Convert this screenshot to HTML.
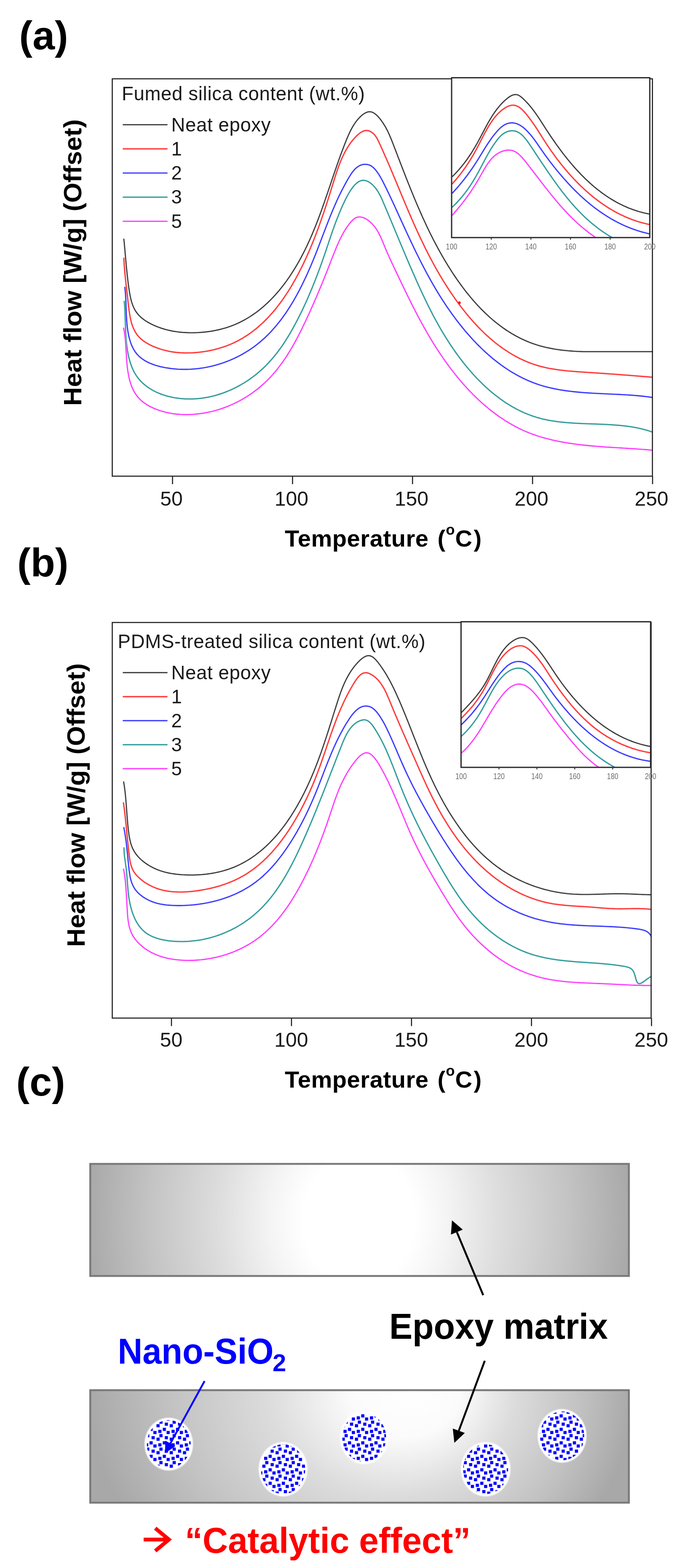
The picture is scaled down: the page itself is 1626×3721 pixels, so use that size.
<!DOCTYPE html>
<html><head><meta charset="utf-8"><title>DSC curves and schematic</title>
<style>
html,body{margin:0;padding:0;background:#fff;}
body{width:1626px;height:3721px;overflow:hidden;}
svg{display:block;}
text{font-family:'Liberation Sans', sans-serif;}
</style></head><body>
<svg width="1626" height="3721" viewBox="0 0 1626 3721">
<defs>
<radialGradient id="g1" gradientUnits="userSpaceOnUse" cx="852" cy="2895" r="660" gradientTransform="translate(852 2895) scale(1 1.18) translate(-852 -2895)">
<stop offset="0" stop-color="#ffffff"/>
<stop offset="0.2" stop-color="#ffffff"/>
<stop offset="0.32" stop-color="#f4f4f4"/>
<stop offset="0.5" stop-color="#dedede"/>
<stop offset="0.75" stop-color="#c4c4c4"/>
<stop offset="1" stop-color="#a6a6a6"/>
</radialGradient>
<radialGradient id="g2" gradientUnits="userSpaceOnUse" cx="855" cy="3300" r="650" fx="990" fy="3300" gradientTransform="translate(0 3300) scale(1 0.85) translate(0 -3300)">
<stop offset="0" stop-color="#ffffff"/>
<stop offset="0.2" stop-color="#fbfbfb"/>
<stop offset="0.45" stop-color="#dcdcdc"/>
<stop offset="0.75" stop-color="#c2c2c2"/>
<stop offset="1" stop-color="#a8a8a8"/>
</radialGradient>
<pattern id="dots" patternUnits="userSpaceOnUse" width="31.4" height="32">
<rect x="-1.05" y="1.05" width="7.5" height="7.5" fill="#0000ff"/>
<rect x="30.35" y="1.05" width="7.5" height="7.5" fill="#0000ff"/>
<rect x="9.55" y="-3.75" width="7.5" height="7.5" fill="#0000ff"/>
<rect x="9.55" y="28.25" width="7.5" height="7.5" fill="#0000ff"/>
<rect x="18.65" y="3.75" width="7.5" height="7.5" fill="#0000ff"/>
<rect x="1.55" y="11.15" width="7.5" height="7.5" fill="#0000ff"/>
<rect x="14.35" y="15.95" width="7.5" height="7.5" fill="#0000ff"/>
<rect x="-5.35" y="19.65" width="7.5" height="7.5" fill="#0000ff"/>
<rect x="26.05" y="19.65" width="7.5" height="7.5" fill="#0000ff"/>
</pattern>
<radialGradient id="glow">
<stop offset="0.86" stop-color="#fff" stop-opacity="1"/>
<stop offset="1" stop-color="#fff" stop-opacity="0.6"/>
</radialGradient>
</defs>
<rect width="1626" height="3721" fill="#fff"/>
<text x="45.5" y="117" font-size="95" font-weight="bold" fill="#000" text-anchor="start" >(a)</text>
<text x="41" y="1368" font-size="95" font-weight="bold" fill="#000" text-anchor="start" >(b)</text>
<text x="38.5" y="2600" font-size="95" font-weight="bold" fill="#000" text-anchor="start" >(c)</text>
<defs><path id="c1" d="M294.0,567.5L294.4,571.8L294.9,576.2L295.3,580.7L295.7,585.3L296.2,590.1L296.6,594.9L297.0,599.9L297.5,604.9L297.9,610.0L298.4,615.1L298.8,620.3L299.3,625.5L299.8,630.8L300.3,636.1L300.9,641.5L301.4,646.8L302.0,652.2L302.6,657.5L303.2,662.8L303.8,668.1L304.5,673.4L305.2,678.6L305.9,683.8L306.7,689.0L307.5,694.0L308.4,699.0L309.3,703.9L310.4,708.7L311.6,713.4L312.9,718.0L314.4,722.5L316.1,726.9L318.0,731.1L320.1,735.2L322.5,739.1L325.2,742.9L328.1,746.5L331.3,749.9L334.8,753.2L338.6,756.3L342.5,759.2L346.6,762.0L350.9,764.6L355.3,767.1L359.8,769.4L364.5,771.6L369.1,773.7L373.9,775.6L378.6,777.3L383.4,779.0L388.2,780.5L393.0,781.9L397.8,783.1L402.7,784.2L407.5,785.3L412.4,786.2L417.3,786.9L422.2,787.6L427.2,788.2L432.1,788.7L437.1,789.0L442.1,789.3L447.2,789.5L452.2,789.6L457.3,789.6L462.3,789.5L467.4,789.4L472.5,789.1L477.6,788.7L482.7,788.3L487.8,787.8L492.9,787.2L498.0,786.5L503.1,785.7L508.1,784.8L513.2,783.8L518.1,782.7L523.1,781.5L528.0,780.2L532.9,778.9L537.8,777.4L542.6,775.8L547.3,774.2L552.0,772.4L556.6,770.6L561.2,768.6L565.7,766.6L570.2,764.4L574.6,762.2L579.0,759.9L583.3,757.5L587.5,755.0L591.7,752.5L595.9,749.8L600.0,747.1L604.0,744.3L608.0,741.4L611.9,738.5L615.8,735.4L619.6,732.3L623.4,729.2L627.2,725.9L630.8,722.6L634.5,719.3L638.1,715.8L641.6,712.4L645.1,708.8L648.5,705.2L651.9,701.6L655.2,697.8L658.5,694.1L661.8,690.3L665.0,686.4L668.1,682.5L671.2,678.6L674.3,674.6L677.3,670.5L680.3,666.5L683.2,662.3L686.1,658.2L688.9,654.0L691.7,649.8L694.4,645.5L697.1,641.3L699.8,637.0L702.4,632.6L705.0,628.3L707.5,623.9L710.0,619.5L712.4,615.1L714.8,610.7L717.2,606.2L719.5,601.7L721.8,597.3L724.0,592.8L726.2,588.3L728.4,583.8L730.5,579.3L732.6,574.7L734.7,570.2L736.7,565.6L738.7,561.1L740.7,556.5L742.6,551.9L744.5,547.3L746.4,542.7L748.3,538.1L750.1,533.5L751.9,528.9L753.7,524.3L755.5,519.6L757.2,515.0L759.0,510.3L760.7,505.6L762.4,501.0L764.1,496.3L765.7,491.6L767.4,486.9L769.1,482.2L770.7,477.5L772.3,472.8L773.9,468.1L775.6,463.4L777.2,458.7L778.8,454.0L780.4,449.2L782.0,444.5L783.6,439.8L785.2,435.0L786.8,430.3L788.4,425.5L790.0,420.8L791.6,416.0L793.3,411.3L794.9,406.5L796.5,401.8L798.2,397.0L799.8,392.2L801.5,387.5L803.2,382.7L804.9,377.9L806.6,373.2L808.3,368.4L810.1,363.6L811.9,358.9L813.7,354.1L815.5,349.4L817.3,344.6L819.2,339.8L821.1,335.1L823.0,330.3L825.0,325.6L827.0,320.9L829.1,316.3L831.3,311.7L833.6,307.2L836.0,302.8L838.5,298.5L841.2,294.3L844.0,290.2L847.0,286.2L850.2,282.4L853.5,278.8L857.0,275.4L860.7,272.2L864.6,269.5L868.5,267.3L872.5,265.8L876.6,265.1L880.7,265.4L884.7,266.7L888.7,269.0L892.6,271.9L896.4,275.5L900.0,279.6L903.5,283.9L906.7,288.3L909.7,292.7L912.5,297.2L915.2,301.6L917.6,306.2L920.0,310.7L922.2,315.3L924.2,319.9L926.2,324.5L928.2,329.1L930.0,333.7L931.8,338.3L933.6,343.0L935.4,347.6L937.2,352.3L939.0,356.9L940.8,361.6L942.6,366.2L944.3,370.9L946.1,375.5L947.9,380.2L949.7,384.8L951.5,389.5L953.3,394.1L955.1,398.8L956.9,403.4L958.7,408.0L960.5,412.7L962.3,417.3L964.1,422.0L966.0,426.6L967.8,431.3L969.6,435.9L971.5,440.5L973.3,445.2L975.2,449.8L977.1,454.4L979.0,459.0L980.9,463.6L982.8,468.3L984.7,472.9L986.6,477.5L988.6,482.1L990.5,486.7L992.5,491.2L994.5,495.8L996.5,500.4L998.5,505.0L1000.5,509.5L1002.5,514.1L1004.6,518.6L1006.7,523.2L1008.8,527.7L1010.9,532.2L1013.0,536.8L1015.1,541.3L1017.3,545.8L1019.5,550.3L1021.7,554.8L1023.9,559.2L1026.2,563.7L1028.4,568.2L1030.7,572.6L1033.1,577.0L1035.4,581.5L1037.8,585.9L1040.1,590.3L1042.6,594.7L1045.0,599.1L1047.5,603.4L1049.9,607.8L1052.5,612.1L1055.0,616.5L1057.6,620.8L1060.2,625.1L1062.8,629.4L1065.5,633.7L1068.2,638.0L1070.9,642.2L1073.6,646.5L1076.4,650.7L1079.2,654.9L1082.1,659.1L1084.9,663.3L1087.8,667.4L1090.8,671.5L1093.7,675.6L1096.7,679.7L1099.8,683.8L1102.8,687.8L1105.9,691.8L1109.1,695.8L1112.3,699.7L1115.5,703.6L1118.7,707.5L1122.0,711.3L1125.3,715.1L1128.6,718.9L1132.0,722.6L1135.4,726.3L1138.8,729.9L1142.3,733.5L1145.8,737.0L1149.4,740.5L1152.9,744.0L1156.6,747.4L1160.2,750.8L1163.9,754.1L1167.7,757.4L1171.4,760.6L1175.2,763.7L1179.1,766.8L1183.0,769.8L1186.9,772.8L1190.8,775.7L1194.8,778.6L1198.9,781.4L1202.9,784.1L1207.0,786.8L1211.2,789.4L1215.4,792.0L1219.6,794.4L1223.9,796.8L1228.2,799.2L1232.6,801.4L1236.9,803.6L1241.4,805.7L1245.8,807.7L1250.4,809.7L1254.9,811.6L1259.5,813.4L1264.2,815.1L1268.8,816.7L1273.6,818.3L1278.3,819.7L1283.1,821.1L1288.0,822.4L1292.9,823.6L1297.8,824.8L1302.7,825.8L1307.7,826.8L1312.7,827.7L1317.7,828.6L1322.8,829.4L1327.9,830.1L1332.9,830.8L1338.0,831.4L1343.2,831.9L1348.3,832.4L1353.4,832.8L1358.5,833.2L1363.7,833.6L1368.8,833.9L1373.9,834.1L1379.1,834.3L1384.2,834.5L1389.3,834.5L1394.4,834.5L1399.5,834.5L1404.6,834.5L1409.6,834.5L1414.6,834.5L1419.6,834.5L1424.6,834.5L1429.5,834.5L1434.5,834.5L1439.4,834.5L1444.2,834.5L1449.1,834.5L1454.0,834.5L1458.8,834.5L1463.7,834.5L1468.5,834.5L1473.4,834.5L1478.3,834.5L1483.1,834.5L1488.0,834.5L1492.9,834.5L1497.8,834.5L1502.8,834.5L1507.7,834.5L1512.7,834.5L1517.7,834.5L1522.8,834.5L1527.9,834.5L1533.0,834.5L1538.2,834.5L1543.4,834.5L1548.7,834.5"/></defs>
<use href="#c1" fill="none" stroke="#b4b4b4" stroke-width="3.7" stroke-linejoin="round" stroke-linecap="round"/>
<use href="#c1" fill="none" stroke="#242424" stroke-width="1.9" stroke-linejoin="round" stroke-linecap="round"/>
<defs><path id="c2" d="M294.0,612.8L294.2,617.9L294.5,623.0L294.8,628.1L295.2,633.1L295.6,638.1L296.0,643.1L296.4,648.0L296.9,652.9L297.4,657.9L297.9,662.8L298.4,667.7L298.9,672.6L299.5,677.5L300.1,682.4L300.6,687.3L301.2,692.3L301.8,697.2L302.4,702.2L303.0,707.2L303.5,712.2L304.1,717.3L304.7,722.3L305.3,727.4L305.9,732.6L306.5,737.7L307.3,742.8L308.1,747.8L309.0,752.8L310.0,757.8L311.2,762.6L312.5,767.4L314.0,772.1L315.7,776.7L317.6,781.1L319.8,785.4L322.2,789.5L324.8,793.5L327.8,797.2L331.1,800.8L334.6,804.2L338.4,807.4L342.5,810.4L346.7,813.2L351.2,815.8L355.7,818.3L360.4,820.6L365.2,822.7L370.1,824.6L375.0,826.4L379.9,828.1L384.7,829.6L389.6,830.9L394.5,832.1L399.3,833.2L404.1,834.2L408.9,835.0L413.7,835.7L418.5,836.3L423.4,836.7L428.2,837.1L433.1,837.3L438.0,837.5L442.9,837.6L447.8,837.5L452.8,837.4L457.8,837.2L462.8,836.8L467.9,836.4L472.9,835.9L478.0,835.3L483.0,834.6L488.0,833.9L493.1,833.0L498.1,832.0L503.1,830.9L508.1,829.8L513.0,828.5L518.0,827.2L522.9,825.7L527.7,824.2L532.5,822.6L537.3,820.9L542.0,819.1L546.7,817.2L551.3,815.2L555.8,813.1L560.3,810.9L564.7,808.7L569.1,806.3L573.4,803.9L577.7,801.4L581.8,798.8L586.0,796.2L590.1,793.4L594.1,790.6L598.1,787.7L602.0,784.7L605.8,781.7L609.7,778.6L613.4,775.4L617.1,772.1L620.8,768.8L624.4,765.5L627.9,762.0L631.4,758.5L634.9,755.0L638.3,751.4L641.6,747.7L645.0,744.0L648.2,740.3L651.4,736.4L654.6,732.6L657.7,728.7L660.8,724.7L663.8,720.7L666.8,716.7L669.8,712.6L672.7,708.5L675.5,704.3L678.3,700.2L681.1,695.9L683.9,691.7L686.6,687.4L689.2,683.1L691.8,678.8L694.4,674.4L696.9,670.0L699.5,665.6L701.9,661.2L704.3,656.7L706.7,652.3L709.1,647.8L711.4,643.3L713.7,638.8L716.0,634.3L718.2,629.8L720.4,625.2L722.5,620.7L724.6,616.2L726.7,611.6L728.8,607.1L730.8,602.5L732.8,598.0L734.8,593.4L736.8,588.8L738.7,584.2L740.6,579.6L742.5,575.0L744.3,570.4L746.1,565.8L748.0,561.2L749.7,556.6L751.5,552.0L753.2,547.3L755.0,542.7L756.7,538.0L758.4,533.4L760.0,528.7L761.7,524.0L763.3,519.3L765.0,514.6L766.6,509.9L768.2,505.2L769.8,500.5L771.3,495.8L772.9,491.0L774.5,486.3L776.0,481.5L777.6,476.7L779.1,472.0L780.6,467.2L782.1,462.4L783.6,457.6L785.2,452.8L786.7,447.9L788.2,443.1L789.7,438.3L791.2,433.4L792.7,428.6L794.2,423.7L795.7,418.8L797.3,414.0L798.9,409.2L800.5,404.3L802.2,399.5L803.9,394.8L805.7,390.0L807.5,385.3L809.5,380.6L811.4,376.0L813.5,371.4L815.7,366.9L817.9,362.4L820.3,358.0L822.8,353.7L825.3,349.4L828.0,345.2L830.9,341.1L833.8,337.0L836.9,333.1L840.2,329.2L843.6,325.4L847.1,321.8L850.8,318.5L854.6,315.5L858.5,313.1L862.4,311.2L866.4,310.0L870.5,309.6L874.6,310.2L878.7,311.7L882.6,314.1L886.4,317.2L889.9,320.9L893.0,325.2L895.7,329.7L898.1,334.5L900.4,339.4L902.7,344.3L904.9,349.2L907.0,354.0L909.2,358.8L911.3,363.6L913.4,368.4L915.5,373.2L917.6,377.9L919.6,382.6L921.7,387.4L923.7,392.0L925.7,396.7L927.6,401.4L929.6,406.0L931.6,410.7L933.5,415.3L935.4,419.9L937.4,424.5L939.3,429.1L941.2,433.7L943.1,438.3L945.0,442.8L946.9,447.4L948.8,452.0L950.7,456.5L952.6,461.1L954.5,465.6L956.4,470.2L958.3,474.7L960.2,479.2L962.1,483.8L964.0,488.3L965.9,492.9L967.9,497.4L969.8,502.0L971.8,506.5L973.7,511.0L975.7,515.6L977.7,520.1L979.6,524.6L981.6,529.1L983.7,533.7L985.7,538.2L987.7,542.7L989.8,547.2L991.8,551.7L993.9,556.2L996.0,560.7L998.1,565.2L1000.3,569.6L1002.4,574.1L1004.6,578.6L1006.7,583.0L1008.9,587.5L1011.1,592.0L1013.4,596.4L1015.6,600.8L1017.9,605.3L1020.2,609.7L1022.5,614.1L1024.9,618.5L1027.2,622.9L1029.6,627.3L1032.0,631.7L1034.4,636.0L1036.9,640.4L1039.4,644.8L1041.9,649.1L1044.4,653.4L1047.0,657.8L1049.6,662.1L1052.2,666.4L1054.9,670.7L1057.5,674.9L1060.3,679.2L1063.0,683.5L1065.8,687.7L1068.6,692.0L1071.4,696.2L1074.3,700.4L1077.2,704.6L1080.1,708.7L1083.0,712.9L1086.0,717.0L1089.1,721.1L1092.1,725.2L1095.2,729.3L1098.3,733.3L1101.5,737.3L1104.7,741.3L1107.9,745.3L1111.1,749.2L1114.4,753.1L1117.7,756.9L1121.1,760.8L1124.5,764.6L1127.9,768.3L1131.3,772.0L1134.8,775.7L1138.3,779.3L1141.8,782.9L1145.4,786.4L1149.0,789.9L1152.7,793.4L1156.4,796.8L1160.1,800.1L1163.8,803.4L1167.6,806.6L1171.4,809.8L1175.3,813.0L1179.1,816.0L1183.1,819.0L1187.0,822.0L1191.0,824.9L1195.0,827.7L1199.1,830.5L1203.2,833.2L1207.3,835.9L1211.4,838.4L1215.6,840.9L1219.8,843.4L1224.1,845.7L1228.4,848.0L1232.7,850.2L1237.1,852.4L1241.5,854.4L1245.9,856.4L1250.4,858.3L1254.9,860.1L1259.4,861.9L1264.0,863.5L1268.6,865.1L1273.3,866.6L1277.9,868.0L1282.7,869.3L1287.4,870.5L1292.2,871.7L1297.0,872.8L1301.8,873.8L1306.7,874.7L1311.6,875.5L1316.5,876.3L1321.5,877.1L1326.5,877.8L1331.4,878.4L1336.5,879.0L1341.5,879.6L1346.5,880.1L1351.6,880.6L1356.7,881.0L1361.8,881.4L1366.9,881.8L1372.0,882.2L1377.1,882.5L1382.3,882.9L1387.4,883.2L1392.6,883.6L1397.7,883.9L1402.9,884.2L1408.0,884.6L1413.2,884.9L1418.3,885.2L1423.5,885.6L1428.6,886.0L1433.8,886.3L1438.9,886.7L1444.0,887.0L1449.1,887.4L1454.2,887.8L1459.3,888.1L1464.4,888.5L1469.5,888.9L1474.5,889.3L1479.6,889.7L1484.6,890.1L1489.6,890.4L1494.5,890.8L1499.5,891.2L1504.4,891.6L1509.3,892.0L1514.2,892.4L1519.0,892.8L1523.8,893.2L1528.6,893.5L1533.4,893.9L1538.1,894.3L1542.7,894.7L1547.4,895.1"/></defs>
<use href="#c2" fill="none" stroke="#ff6a6a" stroke-width="3.4" stroke-linejoin="round" stroke-linecap="round"/>
<use href="#c2" fill="none" stroke="#ff3434" stroke-width="2.0" stroke-linejoin="round" stroke-linecap="round"/>
<defs><path id="c3" d="M296.3,682.0L296.8,686.3L297.3,690.7L297.7,695.3L298.0,700.1L298.3,704.9L298.6,709.9L298.8,714.9L299.0,720.1L299.1,725.3L299.3,730.6L299.5,735.9L299.7,741.3L299.9,746.7L300.2,752.1L300.6,757.5L300.9,762.9L301.4,768.3L301.9,773.6L302.6,779.0L303.3,784.2L304.2,789.4L305.1,794.5L306.2,799.5L307.5,804.4L308.9,809.2L310.4,813.9L312.1,818.5L314.1,822.8L316.2,827.1L318.5,831.1L321.0,835.0L323.7,838.6L326.7,842.1L329.9,845.4L333.4,848.4L337.0,851.2L340.8,853.9L344.8,856.4L349.0,858.7L353.3,860.8L357.8,862.7L362.4,864.5L367.0,866.2L371.8,867.7L376.7,869.0L381.6,870.3L386.6,871.4L391.6,872.4L396.7,873.2L401.8,874.0L406.9,874.7L412.0,875.2L417.1,875.7L422.2,876.1L427.3,876.3L432.4,876.5L437.5,876.5L442.6,876.5L447.7,876.4L452.8,876.2L457.8,875.8L462.9,875.4L468.0,874.9L473.0,874.3L478.0,873.6L483.1,872.9L488.1,872.0L493.0,871.0L498.0,870.0L502.9,868.8L507.8,867.6L512.7,866.3L517.6,864.9L522.4,863.4L527.2,861.9L532.0,860.2L536.7,858.5L541.4,856.7L546.1,854.8L550.7,852.8L555.3,850.8L559.8,848.6L564.3,846.4L568.7,844.1L573.1,841.8L577.5,839.3L581.8,836.8L586.0,834.2L590.2,831.6L594.4,828.8L598.4,826.0L602.5,823.2L606.4,820.2L610.3,817.2L614.2,814.1L618.0,811.0L621.7,807.8L625.4,804.5L629.0,801.2L632.5,797.8L636.0,794.3L639.5,790.8L642.9,787.3L646.2,783.6L649.5,780.0L652.8,776.2L656.0,772.5L659.1,768.6L662.2,764.8L665.3,760.9L668.3,756.9L671.3,752.9L674.2,748.8L677.1,744.7L679.9,740.6L682.7,736.4L685.4,732.2L688.1,728.0L690.8,723.7L693.4,719.4L696.0,715.1L698.5,710.7L701.0,706.3L703.5,701.9L705.9,697.5L708.3,693.0L710.7,688.5L713.0,684.0L715.3,679.4L717.6,674.9L719.8,670.3L722.0,665.7L724.2,661.1L726.4,656.5L728.5,651.9L730.6,647.2L732.6,642.6L734.7,637.9L736.7,633.3L738.7,628.6L740.6,624.0L742.6,619.3L744.5,614.6L746.4,609.9L748.3,605.3L750.1,600.6L752.0,596.0L753.8,591.3L755.6,586.7L757.4,582.0L759.1,577.4L760.9,572.8L762.7,568.1L764.4,563.5L766.2,558.9L767.9,554.3L769.7,549.7L771.5,545.1L773.2,540.5L775.0,535.9L776.8,531.3L778.6,526.7L780.4,522.1L782.2,517.5L784.0,512.9L785.9,508.4L787.8,503.8L789.7,499.2L791.6,494.7L793.6,490.1L795.5,485.5L797.6,481.0L799.6,476.4L801.7,471.9L803.8,467.3L806.0,462.8L808.2,458.2L810.5,453.7L812.8,449.2L815.2,444.6L817.6,440.1L820.0,435.6L822.5,431.0L825.1,426.5L827.7,422.0L830.5,417.5L833.3,413.1L836.2,408.9L839.3,405.0L842.6,401.3L846.1,398.1L849.8,395.3L853.7,393.0L858.0,391.3L862.5,390.2L867.3,389.9L872.0,390.3L876.5,391.5L880.8,393.6L884.7,396.4L888.4,399.8L891.8,403.6L895.0,407.8L898.1,412.2L900.9,416.6L903.6,421.2L906.2,425.9L908.6,430.5L911.0,435.2L913.3,439.9L915.6,444.6L917.9,449.2L920.1,453.8L922.3,458.3L924.5,462.9L926.6,467.4L928.7,471.9L930.8,476.4L932.9,480.9L935.0,485.3L937.1,489.8L939.1,494.3L941.1,498.7L943.2,503.2L945.2,507.6L947.2,512.1L949.3,516.5L951.3,521.0L953.3,525.5L955.4,529.9L957.4,534.5L959.5,539.0L961.6,543.5L963.7,548.1L965.8,552.6L967.9,557.2L970.1,561.8L972.2,566.4L974.4,571.0L976.5,575.5L978.7,580.1L980.9,584.7L983.1,589.3L985.3,593.8L987.5,598.4L989.8,602.9L992.0,607.4L994.2,611.9L996.5,616.4L998.7,620.9L1001.0,625.3L1003.3,629.8L1005.6,634.2L1007.9,638.6L1010.2,643.0L1012.5,647.4L1014.9,651.7L1017.3,656.1L1019.7,660.4L1022.1,664.7L1024.5,669.0L1026.9,673.3L1029.4,677.6L1031.9,681.9L1034.4,686.1L1037.0,690.4L1039.5,694.6L1042.1,698.8L1044.7,703.1L1047.4,707.3L1050.1,711.5L1052.8,715.6L1055.5,719.8L1058.3,724.0L1061.1,728.1L1063.9,732.3L1066.8,736.4L1069.7,740.5L1072.6,744.6L1075.6,748.7L1078.6,752.8L1081.6,756.9L1084.7,760.9L1087.8,764.9L1090.9,768.9L1094.1,772.9L1097.3,776.9L1100.5,780.8L1103.7,784.7L1107.0,788.6L1110.3,792.4L1113.7,796.2L1117.1,800.0L1120.5,803.8L1123.9,807.5L1127.4,811.2L1130.9,814.9L1134.5,818.5L1138.1,822.0L1141.7,825.6L1145.3,829.1L1149.0,832.5L1152.7,836.0L1156.4,839.3L1160.2,842.7L1164.0,845.9L1167.8,849.2L1171.7,852.4L1175.6,855.5L1179.5,858.6L1183.5,861.6L1187.5,864.6L1191.5,867.5L1195.6,870.4L1199.6,873.2L1203.8,876.0L1207.9,878.7L1212.1,881.3L1216.3,883.9L1220.6,886.4L1224.8,888.8L1229.2,891.2L1233.5,893.5L1237.9,895.8L1242.3,897.9L1246.7,900.0L1251.2,902.1L1255.7,904.0L1260.2,905.9L1264.8,907.7L1269.4,909.5L1274.0,911.1L1278.6,912.7L1283.3,914.2L1288.0,915.7L1292.8,917.0L1297.6,918.3L1302.4,919.5L1307.2,920.6L1312.1,921.7L1316.9,922.7L1321.8,923.7L1326.7,924.6L1331.7,925.5L1336.6,926.2L1341.6,927.0L1346.6,927.7L1351.6,928.3L1356.6,928.9L1361.7,929.5L1366.7,930.0L1371.8,930.5L1376.8,931.0L1381.9,931.4L1387.0,931.8L1392.1,932.2L1397.2,932.5L1402.3,932.8L1407.4,933.1L1412.5,933.4L1417.6,933.7L1422.7,933.9L1427.9,934.2L1433.0,934.4L1438.1,934.6L1443.2,934.9L1448.3,935.1L1453.4,935.3L1458.4,935.6L1463.5,935.8L1468.6,936.0L1473.6,936.3L1478.7,936.6L1483.7,936.8L1488.7,937.1L1493.7,937.5L1498.7,937.8L1503.7,938.2L1508.6,938.6L1513.5,939.0L1518.4,939.5L1523.3,940.0L1528.2,940.5L1533.0,941.1L1537.8,941.7L1542.6,942.3L1547.4,943.0"/></defs>
<use href="#c3" fill="none" stroke="#7878ff" stroke-width="3.3" stroke-linejoin="round" stroke-linecap="round"/>
<use href="#c3" fill="none" stroke="#3030ff" stroke-width="1.9" stroke-linejoin="round" stroke-linecap="round"/>
<defs><path id="c4" d="M294.9,715.0L295.4,720.2L295.8,725.3L296.1,730.4L296.4,735.4L296.6,740.4L296.8,745.3L297.0,750.2L297.2,755.1L297.3,760.0L297.5,764.8L297.6,769.7L297.8,774.5L298.0,779.4L298.2,784.3L298.4,789.2L298.7,794.1L299.0,799.1L299.4,804.1L299.8,809.2L300.3,814.3L300.9,819.5L301.6,824.7L302.3,829.9L303.2,835.1L304.1,840.2L305.2,845.3L306.4,850.4L307.8,855.5L309.2,860.4L310.9,865.3L312.6,870.1L314.6,874.7L316.6,879.3L318.9,883.7L321.4,887.9L324.0,892.0L326.8,895.9L329.8,899.7L333.0,903.3L336.3,906.8L339.8,910.1L343.4,913.2L347.2,916.2L351.1,919.1L355.1,921.8L359.3,924.3L363.5,926.8L367.9,929.0L372.3,931.1L376.9,933.1L381.5,935.0L386.2,936.7L391.0,938.2L395.8,939.7L400.8,941.0L405.7,942.1L410.7,943.2L415.7,944.1L420.8,944.8L425.9,945.5L431.0,946.0L436.1,946.4L441.2,946.7L446.3,946.8L451.4,946.8L456.5,946.7L461.6,946.5L466.6,946.2L471.7,945.8L476.7,945.2L481.7,944.6L486.7,943.8L491.7,942.9L496.6,942.0L501.5,940.9L506.4,939.7L511.3,938.4L516.1,937.0L520.9,935.5L525.7,934.0L530.5,932.3L535.2,930.5L539.8,928.7L544.5,926.7L549.1,924.7L553.6,922.6L558.1,920.4L562.6,918.1L567.0,915.7L571.4,913.3L575.7,910.8L580.0,908.2L584.2,905.5L588.4,902.7L592.5,899.9L596.6,897.0L600.6,894.1L604.6,891.1L608.5,888.0L612.3,884.8L616.1,881.6L619.8,878.3L623.4,875.0L627.0,871.6L630.5,868.2L633.9,864.7L637.3,861.1L640.6,857.5L643.9,853.9L647.1,850.2L650.2,846.4L653.3,842.6L656.4,838.8L659.4,834.9L662.3,830.9L665.2,827.0L668.1,823.0L670.9,818.9L673.6,814.8L676.3,810.7L679.0,806.5L681.7,802.3L684.3,798.0L686.8,793.8L689.4,789.5L691.9,785.1L694.4,780.7L696.8,776.3L699.2,771.9L701.6,767.5L704.0,763.0L706.3,758.5L708.6,754.0L710.9,749.4L713.2,744.9L715.4,740.3L717.7,735.7L719.9,731.0L722.0,726.4L724.2,721.8L726.3,717.1L728.4,712.4L730.5,707.7L732.5,703.0L734.5,698.3L736.5,693.6L738.5,688.9L740.5,684.1L742.4,679.4L744.3,674.7L746.2,669.9L748.1,665.2L749.9,660.5L751.8,655.7L753.6,651.0L755.3,646.3L757.1,641.5L758.9,636.8L760.6,632.1L762.3,627.4L764.0,622.7L765.6,618.0L767.3,613.3L768.9,608.7L770.5,604.0L772.1,599.4L773.7,594.8L775.2,590.2L776.7,585.6L778.3,581.0L779.8,576.5L781.3,571.9L782.9,567.3L784.4,562.8L786.0,558.2L787.5,553.7L789.1,549.1L790.7,544.5L792.4,539.9L794.0,535.3L795.7,530.7L797.4,526.1L799.2,521.4L801.0,516.8L802.9,512.1L804.8,507.4L806.8,502.6L808.8,497.8L810.9,493.0L813.0,488.2L815.3,483.3L817.6,478.4L819.9,473.5L822.4,468.7L825.0,463.9L827.6,459.1L830.4,454.6L833.3,450.2L836.3,445.9L839.4,441.9L842.7,438.2L846.1,435.0L849.6,432.2L853.3,430.1L857.2,428.6L861.2,428.0L865.3,428.1L869.5,429.1L873.6,430.8L877.7,433.2L881.7,436.2L885.5,439.7L889.1,443.6L892.4,447.6L895.4,451.9L898.2,456.2L900.7,460.7L903.0,465.2L905.2,469.8L907.3,474.4L909.3,479.1L911.3,483.7L913.3,488.4L915.2,493.0L917.2,497.7L919.2,502.3L921.1,507.0L923.1,511.6L925.0,516.3L927.0,521.0L928.9,525.6L930.9,530.3L932.8,534.9L934.8,539.6L936.7,544.2L938.6,548.8L940.6,553.5L942.5,558.1L944.4,562.8L946.4,567.4L948.3,572.0L950.2,576.6L952.2,581.3L954.1,585.9L956.0,590.5L958.0,595.1L959.9,599.7L961.9,604.3L963.8,608.9L965.8,613.5L967.7,618.1L969.7,622.7L971.6,627.3L973.6,631.9L975.6,636.4L977.6,641.0L979.6,645.6L981.6,650.1L983.6,654.7L985.6,659.2L987.6,663.7L989.6,668.3L991.7,672.8L993.7,677.3L995.8,681.8L997.8,686.3L999.9,690.8L1002.0,695.3L1004.1,699.8L1006.2,704.2L1008.3,708.7L1010.5,713.2L1012.6,717.6L1014.8,722.0L1017.0,726.5L1019.2,730.9L1021.4,735.3L1023.7,739.7L1026.0,744.1L1028.2,748.5L1030.6,752.9L1032.9,757.2L1035.3,761.6L1037.7,765.9L1040.1,770.2L1042.5,774.6L1045.0,778.9L1047.5,783.2L1050.0,787.5L1052.6,791.8L1055.2,796.0L1057.8,800.3L1060.5,804.5L1063.2,808.8L1065.9,813.0L1068.6,817.2L1071.4,821.4L1074.3,825.6L1077.1,829.8L1080.0,833.9L1083.0,838.1L1086.0,842.2L1089.0,846.3L1092.0,850.4L1095.1,854.4L1098.2,858.4L1101.4,862.4L1104.6,866.4L1107.8,870.3L1111.0,874.2L1114.3,878.1L1117.7,882.0L1121.0,885.8L1124.4,889.6L1127.9,893.3L1131.3,897.0L1134.9,900.6L1138.4,904.3L1142.0,907.8L1145.6,911.4L1149.2,914.8L1152.9,918.3L1156.6,921.6L1160.4,925.0L1164.2,928.3L1168.0,931.5L1171.9,934.7L1175.8,937.8L1179.7,940.8L1183.7,943.8L1187.6,946.8L1191.7,949.6L1195.7,952.5L1199.8,955.2L1204.0,957.9L1208.2,960.5L1212.4,963.1L1216.6,965.5L1220.9,967.9L1225.2,970.3L1229.5,972.5L1233.9,974.7L1238.3,976.8L1242.8,978.8L1247.2,980.8L1251.8,982.6L1256.3,984.4L1260.9,986.1L1265.5,987.7L1270.2,989.2L1274.8,990.7L1279.6,992.0L1284.3,993.3L1289.1,994.5L1293.9,995.5L1298.8,996.6L1303.6,997.5L1308.5,998.4L1313.4,999.1L1318.4,999.9L1323.4,1000.6L1328.3,1001.2L1333.4,1001.7L1338.4,1002.2L1343.4,1002.7L1348.5,1003.1L1353.5,1003.5L1358.6,1003.9L1363.7,1004.2L1368.8,1004.5L1373.9,1004.7L1379.1,1005.0L1384.2,1005.2L1389.3,1005.4L1394.4,1005.6L1399.6,1005.8L1404.7,1006.0L1409.8,1006.1L1415.0,1006.3L1420.1,1006.5L1425.2,1006.7L1430.3,1006.9L1435.4,1007.1L1440.5,1007.4L1445.6,1007.7L1450.7,1008.0L1455.7,1008.3L1460.8,1008.7L1465.8,1009.1L1470.8,1009.5L1475.8,1010.0L1480.8,1010.5L1485.7,1011.1L1490.6,1011.7L1495.5,1012.4L1500.4,1013.2L1505.3,1014.0L1510.1,1014.9L1514.9,1015.9L1519.6,1016.9L1524.3,1018.1L1529.0,1019.3L1533.7,1020.6L1538.3,1021.9L1542.9,1023.4L1547.4,1025.0"/></defs>
<use href="#c4" fill="none" stroke="#88c4c4" stroke-width="3.6" stroke-linejoin="round" stroke-linecap="round"/>
<use href="#c4" fill="none" stroke="#209494" stroke-width="1.9" stroke-linejoin="round" stroke-linecap="round"/>
<defs><path id="c5" d="M293.3,778.6L294.3,783.0L295.1,787.5L295.9,792.2L296.5,796.9L297.1,801.7L297.6,806.6L298.0,811.6L298.4,816.7L298.7,821.8L299.0,827.0L299.3,832.2L299.6,837.5L299.9,842.7L300.2,848.0L300.6,853.3L301.0,858.6L301.4,863.8L302.0,869.1L302.6,874.3L303.3,879.5L304.1,884.6L305.0,889.7L306.0,894.7L307.1,899.6L308.4,904.5L309.8,909.2L311.4,913.8L313.1,918.4L315.1,922.8L317.2,927.1L319.5,931.2L322.0,935.2L324.7,939.1L327.7,942.7L330.9,946.2L334.3,949.6L337.9,952.7L341.7,955.7L345.8,958.5L349.9,961.1L354.3,963.6L358.7,966.0L363.3,968.1L368.0,970.1L372.7,972.0L377.6,973.7L382.4,975.3L387.4,976.7L392.3,978.0L397.3,979.2L402.3,980.2L407.3,981.1L412.3,981.8L417.3,982.5L422.4,983.0L427.4,983.4L432.5,983.6L437.5,983.8L442.6,983.8L447.6,983.8L452.7,983.6L457.7,983.3L462.7,982.9L467.8,982.5L472.7,981.9L477.7,981.2L482.7,980.5L487.6,979.6L492.5,978.7L497.4,977.7L502.3,976.5L507.2,975.3L512.0,974.0L516.8,972.6L521.6,971.2L526.3,969.6L531.0,967.9L535.7,966.2L540.3,964.4L545.0,962.5L549.5,960.5L554.1,958.5L558.6,956.3L563.0,954.1L567.5,951.8L571.8,949.5L576.2,947.0L580.5,944.5L584.7,941.9L588.9,939.2L593.1,936.5L597.2,933.7L601.2,930.8L605.2,927.8L609.2,924.8L613.1,921.7L616.9,918.5L620.7,915.3L624.5,912.0L628.1,908.7L631.7,905.2L635.3,901.8L638.8,898.2L642.2,894.6L645.6,891.0L648.9,887.2L652.1,883.5L655.3,879.6L658.5,875.7L661.5,871.8L664.6,867.8L667.5,863.8L670.5,859.8L673.3,855.6L676.2,851.5L679.0,847.3L681.7,843.1L684.4,838.8L687.0,834.5L689.6,830.2L692.2,825.9L694.7,821.5L697.2,817.1L699.7,812.7L702.1,808.3L704.5,803.8L706.9,799.3L709.2,794.8L711.5,790.3L713.8,785.8L716.0,781.3L718.2,776.7L720.4,772.2L722.6,767.7L724.8,763.1L726.9,758.6L729.0,754.0L731.1,749.5L733.2,745.0L735.3,740.4L737.3,735.9L739.3,731.4L741.4,726.9L743.4,722.3L745.4,717.8L747.3,713.3L749.3,708.8L751.3,704.3L753.2,699.7L755.1,695.2L757.0,690.7L758.9,686.1L760.8,681.6L762.7,677.1L764.6,672.5L766.4,668.0L768.3,663.4L770.1,658.9L771.9,654.3L773.8,649.7L775.6,645.1L777.4,640.5L779.2,635.9L781.0,631.3L782.8,626.7L784.6,622.0L786.4,617.4L788.2,612.7L790.1,608.0L791.9,603.3L793.8,598.6L795.7,593.9L797.7,589.1L799.6,584.4L801.7,579.7L803.8,575.0L805.9,570.3L808.2,565.7L810.5,561.1L812.9,556.6L815.3,552.1L817.9,547.7L820.6,543.4L823.5,539.1L826.4,535.0L829.5,530.9L832.7,527.0L836.0,523.4L839.5,520.2L843.2,517.6L847.0,515.8L851.0,514.9L855.2,514.9L859.4,515.6L863.6,516.9L867.8,518.9L871.9,521.4L876.0,524.4L879.8,527.7L883.5,531.3L886.9,535.1L890.1,539.1L893.1,543.3L895.8,547.6L898.3,552.0L900.7,556.5L902.9,561.1L905.1,565.8L907.1,570.5L909.1,575.3L911.0,580.0L913.0,584.8L914.9,589.5L916.9,594.2L918.9,598.9L921.0,603.5L923.0,608.2L925.1,612.8L927.2,617.3L929.3,621.9L931.4,626.4L933.5,631.0L935.7,635.5L937.8,640.0L940.0,644.5L942.1,649.0L944.3,653.5L946.4,658.0L948.6,662.5L950.7,667.0L952.9,671.5L955.0,676.0L957.2,680.5L959.3,684.9L961.5,689.4L963.7,693.9L965.8,698.3L968.0,702.8L970.2,707.2L972.4,711.7L974.6,716.1L976.8,720.5L979.1,725.0L981.3,729.4L983.6,733.8L985.8,738.2L988.1,742.6L990.4,747.0L992.7,751.4L995.0,755.7L997.4,760.1L999.7,764.4L1002.1,768.8L1004.5,773.1L1006.9,777.5L1009.4,781.8L1011.8,786.1L1014.3,790.4L1016.8,794.7L1019.3,799.0L1021.8,803.2L1024.4,807.5L1027.0,811.7L1029.6,816.0L1032.3,820.2L1034.9,824.4L1037.6,828.6L1040.4,832.8L1043.1,837.0L1045.9,841.2L1048.7,845.3L1051.6,849.5L1054.5,853.6L1057.4,857.7L1060.3,861.8L1063.3,865.9L1066.3,870.0L1069.3,874.0L1072.4,878.0L1075.5,882.0L1078.6,886.0L1081.8,890.0L1085.0,893.9L1088.2,897.8L1091.4,901.7L1094.7,905.6L1098.0,909.4L1101.4,913.2L1104.8,917.0L1108.2,920.7L1111.6,924.4L1115.1,928.1L1118.6,931.7L1122.1,935.3L1125.7,938.8L1129.3,942.4L1132.9,945.9L1136.5,949.3L1140.2,952.7L1143.9,956.1L1147.7,959.4L1151.5,962.7L1155.3,965.9L1159.1,969.1L1163.0,972.2L1166.9,975.3L1170.8,978.3L1174.8,981.3L1178.8,984.3L1182.8,987.2L1186.9,990.0L1191.0,992.8L1195.1,995.5L1199.2,998.2L1203.4,1000.8L1207.6,1003.3L1211.9,1005.8L1216.2,1008.2L1220.5,1010.6L1224.8,1012.9L1229.2,1015.2L1233.6,1017.4L1238.0,1019.5L1242.5,1021.5L1247.0,1023.5L1251.5,1025.4L1256.1,1027.3L1260.7,1029.0L1265.3,1030.7L1269.9,1032.4L1274.6,1034.0L1279.3,1035.5L1284.0,1037.0L1288.8,1038.4L1293.6,1039.7L1298.4,1041.0L1303.2,1042.2L1308.0,1043.4L1312.9,1044.6L1317.8,1045.6L1322.7,1046.7L1327.6,1047.7L1332.5,1048.6L1337.5,1049.5L1342.4,1050.4L1347.4,1051.2L1352.4,1052.0L1357.4,1052.7L1362.4,1053.4L1367.4,1054.1L1372.5,1054.8L1377.5,1055.4L1382.6,1056.0L1387.6,1056.5L1392.7,1057.0L1397.7,1057.5L1402.8,1058.0L1407.9,1058.5L1412.9,1058.9L1418.0,1059.3L1423.1,1059.7L1428.2,1060.1L1433.2,1060.5L1438.3,1060.8L1443.4,1061.2L1448.4,1061.5L1453.5,1061.8L1458.6,1062.1L1463.6,1062.4L1468.6,1062.7L1473.7,1063.0L1478.7,1063.3L1483.7,1063.7L1488.7,1064.0L1493.7,1064.3L1498.6,1064.6L1503.6,1064.9L1508.5,1065.2L1513.5,1065.6L1518.4,1065.9L1523.3,1066.3L1528.1,1066.6L1533.0,1067.0L1537.8,1067.4L1542.6,1067.9L1547.4,1068.3"/></defs>
<use href="#c5" fill="none" stroke="#ffa8ff" stroke-width="3.8" stroke-linejoin="round" stroke-linecap="round"/>
<use href="#c5" fill="none" stroke="#ff20ff" stroke-width="1.8" stroke-linejoin="round" stroke-linecap="round"/>
<rect x="266.5" y="187" width="1282.2" height="943" fill="none" stroke="#222" stroke-width="2.6"/>
<line x1="409.5" y1="1130" x2="409.5" y2="1149" stroke="#222" stroke-width="2.6"/>
<text x="407.0" y="1200" font-size="48" font-weight="normal" fill="#1a1a1a" text-anchor="middle" >50</text>
<line x1="694.4" y1="1130" x2="694.4" y2="1149" stroke="#222" stroke-width="2.6"/>
<text x="691.9" y="1200" font-size="48" font-weight="normal" fill="#1a1a1a" text-anchor="middle" >100</text>
<line x1="979.2" y1="1130" x2="979.2" y2="1149" stroke="#222" stroke-width="2.6"/>
<text x="976.8" y="1200" font-size="48" font-weight="normal" fill="#1a1a1a" text-anchor="middle" >150</text>
<line x1="1264.1" y1="1130" x2="1264.1" y2="1149" stroke="#222" stroke-width="2.6"/>
<text x="1261.6" y="1200" font-size="48" font-weight="normal" fill="#1a1a1a" text-anchor="middle" >200</text>
<line x1="1549.0" y1="1130" x2="1549.0" y2="1149" stroke="#222" stroke-width="2.6"/>
<text x="1546.5" y="1200" font-size="48" font-weight="normal" fill="#1a1a1a" text-anchor="middle" >250</text>
<text x="288.9" y="238" font-size="45.5" font-weight="normal" fill="#1a1a1a" text-anchor="start" textLength="577" lengthAdjust="spacing">Fumed silica content (wt.%)</text>
<line x1="291.5" y1="296.0" x2="397.5" y2="296.0" stroke="#b4b4b4" stroke-width="3.7"/>
<line x1="291.5" y1="296.0" x2="397.5" y2="296.0" stroke="#242424" stroke-width="1.9"/>
<text x="406.5" y="311.5" font-size="45.5" font-weight="normal" fill="#1a1a1a" text-anchor="start" textLength="236" lengthAdjust="spacing">Neat epoxy</text>
<line x1="291.5" y1="353.3" x2="397.5" y2="353.3" stroke="#ff6a6a" stroke-width="3.4"/>
<line x1="291.5" y1="353.3" x2="397.5" y2="353.3" stroke="#ff3434" stroke-width="2.0"/>
<text x="406.5" y="368.8" font-size="45.5" font-weight="normal" fill="#1a1a1a" text-anchor="start" >1</text>
<line x1="291.5" y1="410.6" x2="397.5" y2="410.6" stroke="#7878ff" stroke-width="3.3"/>
<line x1="291.5" y1="410.6" x2="397.5" y2="410.6" stroke="#3030ff" stroke-width="1.9"/>
<text x="406.5" y="426.1" font-size="45.5" font-weight="normal" fill="#1a1a1a" text-anchor="start" >2</text>
<line x1="291.5" y1="467.9" x2="397.5" y2="467.9" stroke="#88c4c4" stroke-width="3.6"/>
<line x1="291.5" y1="467.9" x2="397.5" y2="467.9" stroke="#209494" stroke-width="1.9"/>
<text x="406.5" y="483.4" font-size="45.5" font-weight="normal" fill="#1a1a1a" text-anchor="start" >3</text>
<line x1="291.5" y1="525.2" x2="397.5" y2="525.2" stroke="#ffa8ff" stroke-width="3.8"/>
<line x1="291.5" y1="525.2" x2="397.5" y2="525.2" stroke="#ff20ff" stroke-width="1.8"/>
<text x="406.5" y="540.7" font-size="45.5" font-weight="normal" fill="#1a1a1a" text-anchor="start" >5</text>
<text transform="translate(193,963) rotate(-90)" font-size="60" font-weight="bold" fill="#000" textLength="680" lengthAdjust="spacingAndGlyphs">Heat flow [W/g] (Offset)</text>
<text x="676" y="1297" font-size="56" font-weight="bold" fill="#000" textLength="341" lengthAdjust="spacing">Temperature</text>
<text x="1038.5" y="1297" font-size="56" font-weight="bold" fill="#000">(</text>
<text x="1058.3" y="1269" font-size="35" font-weight="bold" fill="#000">o</text>
<text x="1080.5" y="1297" font-size="56" font-weight="bold" fill="#000">C</text>
<text x="1124.5" y="1297" font-size="56" font-weight="bold" fill="#000">)</text>
<rect x="1072" y="184.5" width="470.4000000000001" height="379.29999999999995" fill="#fff"/>
<svg x="1072" y="184.5" width="470.4000000000001" height="379.29999999999995" viewBox="1072 184.5 470.4000000000001 379.29999999999995" overflow="hidden">
<defs><path id="c6" d="M1073.2,419.5L1076.1,416.6L1079.0,413.7L1081.9,410.7L1084.6,407.8L1087.4,404.8L1090.0,401.8L1092.6,398.7L1095.2,395.7L1097.7,392.6L1100.2,389.5L1102.6,386.4L1104.9,383.2L1107.3,380.1L1109.6,376.9L1111.8,373.7L1114.0,370.4L1116.2,367.1L1118.4,363.9L1120.5,360.5L1122.5,357.2L1124.6,353.8L1126.6,350.4L1128.6,347.0L1130.6,343.6L1132.6,340.1L1134.5,336.6L1136.4,333.1L1138.3,329.5L1140.2,326.0L1142.1,322.4L1144.0,318.8L1145.9,315.2L1147.8,311.6L1149.7,308.0L1151.6,304.4L1153.5,300.8L1155.5,297.2L1157.4,293.6L1159.4,290.0L1161.5,286.5L1163.6,283.0L1165.7,279.5L1167.8,276.0L1170.0,272.6L1172.3,269.2L1174.6,265.9L1177.0,262.6L1179.4,259.4L1181.9,256.2L1184.5,253.0L1187.1,249.9L1189.8,246.9L1192.6,244.0L1195.5,241.1L1198.5,238.3L1201.6,235.6L1204.8,233.0L1208.0,230.6L1211.3,228.4L1214.6,226.7L1218.0,225.3L1221.4,224.5L1224.7,224.4L1228.1,224.9L1231.4,226.2L1234.6,228.2L1237.8,230.7L1240.9,233.5L1243.9,236.3L1246.8,239.2L1249.6,242.1L1252.4,245.0L1255.1,248.0L1257.7,251.1L1260.2,254.1L1262.7,257.2L1265.1,260.4L1267.5,263.5L1269.8,266.7L1272.1,269.9L1274.4,273.2L1276.6,276.5L1278.8,279.7L1281.0,283.0L1283.1,286.3L1285.3,289.7L1287.4,293.0L1289.5,296.3L1291.7,299.7L1293.8,303.0L1296.0,306.4L1298.2,309.7L1300.4,313.1L1302.6,316.4L1304.8,319.8L1307.0,323.1L1309.3,326.4L1311.6,329.8L1313.9,333.1L1316.2,336.4L1318.5,339.7L1320.8,343.0L1323.2,346.3L1325.6,349.6L1328.0,352.8L1330.4,356.1L1332.8,359.3L1335.3,362.6L1337.7,365.8L1340.2,369.0L1342.7,372.2L1345.3,375.4L1347.8,378.5L1350.4,381.7L1353.0,384.8L1355.6,387.9L1358.2,390.9L1360.8,394.0L1363.5,397.0L1366.2,400.1L1368.9,403.1L1371.6,406.0L1374.4,409.0L1377.2,411.9L1379.9,414.8L1382.8,417.6L1385.6,420.5L1388.5,423.3L1391.3,426.1L1394.3,428.8L1397.2,431.5L1400.1,434.2L1403.1,436.9L1406.1,439.5L1409.1,442.1L1412.2,444.7L1415.2,447.2L1418.3,449.7L1421.5,452.1L1424.6,454.5L1427.8,456.9L1431.0,459.2L1434.2,461.5L1437.4,463.8L1440.7,466.0L1444.0,468.2L1447.3,470.3L1450.6,472.4L1454.0,474.4L1457.4,476.4L1460.8,478.4L1464.3,480.3L1467.7,482.1L1471.2,484.0L1474.8,485.7L1478.3,487.4L1481.9,489.1L1485.5,490.7L1489.1,492.3L1492.8,493.8L1496.5,495.2L1500.2,496.6L1504.0,498.0L1507.8,499.2L1511.6,500.5L1515.4,501.7L1519.3,502.8L1523.2,503.8L1527.1,504.8L1531.1,505.8L1535.0,506.6L1539.1,507.5L1543.1,508.2"/></defs>
<use href="#c6" fill="none" stroke="#b4b4b4" stroke-width="3.7" stroke-linejoin="round"/>
<use href="#c6" fill="none" stroke="#242424" stroke-width="1.9" stroke-linejoin="round"/>
<defs><path id="c7" d="M1073.2,436.6L1076.0,433.4L1078.8,430.2L1081.5,427.1L1084.2,423.9L1086.8,420.8L1089.3,417.6L1091.8,414.5L1094.3,411.3L1096.7,408.2L1099.0,405.0L1101.3,401.8L1103.6,398.7L1105.8,395.5L1108.0,392.3L1110.1,389.0L1112.2,385.8L1114.3,382.5L1116.4,379.3L1118.4,376.0L1120.4,372.6L1122.4,369.3L1124.3,365.9L1126.3,362.4L1128.2,358.9L1130.2,355.4L1132.1,351.9L1134.0,348.3L1135.9,344.6L1137.8,341.0L1139.7,337.3L1141.6,333.5L1143.5,329.8L1145.4,326.0L1147.4,322.3L1149.3,318.5L1151.3,314.8L1153.4,311.1L1155.4,307.4L1157.5,303.7L1159.6,300.1L1161.8,296.5L1164.0,293.0L1166.3,289.6L1168.6,286.2L1171.0,282.9L1173.5,279.7L1176.0,276.6L1178.6,273.6L1181.2,270.7L1184.0,267.9L1186.8,265.3L1189.7,262.7L1192.7,260.4L1195.8,258.1L1198.9,256.0L1202.2,254.1L1205.6,252.4L1209.0,251.1L1212.5,250.1L1215.9,249.6L1219.4,249.6L1222.9,250.2L1226.3,251.3L1229.7,252.8L1233.0,254.9L1236.3,257.3L1239.4,260.1L1242.5,263.2L1245.5,266.5L1248.4,269.9L1251.2,273.3L1253.9,276.8L1256.5,280.2L1259.0,283.6L1261.5,287.0L1263.9,290.4L1266.3,293.8L1268.6,297.1L1270.9,300.5L1273.1,303.8L1275.3,307.2L1277.4,310.5L1279.5,313.8L1281.6,317.1L1283.7,320.4L1285.8,323.8L1287.9,327.1L1290.0,330.4L1292.1,333.6L1294.2,336.9L1296.3,340.2L1298.5,343.5L1300.7,346.8L1302.9,350.1L1305.1,353.3L1307.4,356.6L1309.7,359.9L1312.0,363.1L1314.3,366.4L1316.6,369.6L1319.0,372.8L1321.4,376.0L1323.8,379.3L1326.3,382.4L1328.8,385.6L1331.3,388.8L1333.8,392.0L1336.3,395.1L1338.9,398.2L1341.5,401.3L1344.1,404.4L1346.7,407.5L1349.4,410.6L1352.1,413.6L1354.8,416.6L1357.5,419.6L1360.3,422.6L1363.1,425.6L1365.9,428.5L1368.7,431.4L1371.5,434.3L1374.4,437.2L1377.3,440.0L1380.2,442.9L1383.2,445.6L1386.1,448.4L1389.1,451.1L1392.1,453.9L1395.2,456.5L1398.2,459.2L1401.3,461.8L1404.4,464.4L1407.5,466.9L1410.7,469.5L1413.9,471.9L1417.1,474.4L1420.3,476.8L1423.5,479.2L1426.8,481.5L1430.1,483.8L1433.4,486.1L1436.7,488.3L1440.1,490.5L1443.4,492.7L1446.8,494.8L1450.3,496.9L1453.7,498.9L1457.2,500.9L1460.7,502.8L1464.2,504.7L1467.7,506.6L1471.3,508.4L1474.9,510.1L1478.5,511.8L1482.1,513.5L1485.7,515.1L1489.4,516.7L1493.1,518.2L1496.8,519.7L1500.5,521.1L1504.3,522.4L1508.1,523.7L1511.9,525.0L1515.7,526.2L1519.6,527.3L1523.4,528.4L1527.3,529.5L1531.2,530.4L1535.2,531.4L1539.1,532.2L1543.1,533.0"/></defs>
<use href="#c7" fill="none" stroke="#ff6a6a" stroke-width="3.4" stroke-linejoin="round"/>
<use href="#c7" fill="none" stroke="#ff3434" stroke-width="2.0" stroke-linejoin="round"/>
<defs><path id="c8" d="M1073.2,459.0L1076.0,455.9L1078.8,452.8L1081.6,449.7L1084.3,446.6L1087.0,443.6L1089.6,440.5L1092.1,437.4L1094.7,434.4L1097.2,431.3L1099.6,428.3L1102.1,425.2L1104.5,422.1L1106.8,419.0L1109.1,415.9L1111.5,412.8L1113.7,409.6L1116.0,406.5L1118.2,403.3L1120.5,400.1L1122.7,396.9L1124.9,393.6L1127.0,390.3L1129.2,387.0L1131.4,383.6L1133.5,380.2L1135.7,376.8L1137.8,373.3L1139.9,369.8L1142.1,366.3L1144.2,362.8L1146.4,359.2L1148.6,355.7L1150.8,352.1L1153.0,348.5L1155.3,345.0L1157.6,341.5L1159.9,338.0L1162.3,334.5L1164.7,331.0L1167.1,327.6L1169.6,324.3L1172.1,321.0L1174.7,317.7L1177.4,314.5L1180.1,311.4L1182.9,308.3L1185.8,305.4L1188.7,302.7L1191.7,300.2L1194.8,298.0L1198.0,296.0L1201.2,294.4L1204.6,293.2L1208.0,292.3L1211.5,291.7L1215.0,291.5L1218.5,291.7L1222.0,292.3L1225.6,293.2L1229.1,294.5L1232.6,296.2L1236.0,298.2L1239.4,300.5L1242.7,303.1L1245.9,305.8L1249.0,308.7L1252.0,311.7L1254.9,314.8L1257.6,317.8L1260.3,320.9L1262.8,324.1L1265.3,327.2L1267.6,330.3L1270.0,333.5L1272.2,336.7L1274.5,339.9L1276.7,343.1L1278.9,346.3L1281.1,349.5L1283.4,352.8L1285.6,356.0L1287.9,359.3L1290.2,362.5L1292.5,365.8L1294.8,369.0L1297.2,372.3L1299.6,375.5L1302.0,378.8L1304.4,382.0L1306.9,385.2L1309.4,388.5L1311.9,391.7L1314.4,394.9L1316.9,398.0L1319.5,401.2L1322.0,404.4L1324.6,407.5L1327.2,410.6L1329.8,413.7L1332.5,416.8L1335.1,419.9L1337.8,423.0L1340.5,426.0L1343.2,429.0L1345.9,432.0L1348.6,435.0L1351.4,438.0L1354.2,440.9L1356.9,443.9L1359.8,446.8L1362.6,449.6L1365.4,452.5L1368.3,455.3L1371.2,458.1L1374.1,460.9L1377.0,463.7L1380.0,466.4L1382.9,469.1L1385.9,471.8L1388.9,474.4L1391.9,477.1L1395.0,479.7L1398.1,482.2L1401.1,484.8L1404.2,487.3L1407.4,489.7L1410.5,492.2L1413.7,494.6L1416.9,497.0L1420.1,499.3L1423.3,501.6L1426.6,503.9L1429.9,506.1L1433.2,508.3L1436.5,510.5L1439.8,512.6L1443.2,514.7L1446.6,516.8L1450.0,518.8L1453.4,520.8L1456.9,522.7L1460.4,524.6L1463.9,526.5L1467.4,528.3L1470.9,530.1L1474.5,531.8L1478.1,533.5L1481.7,535.2L1485.4,536.8L1489.1,538.3L1492.8,539.9L1496.5,541.3L1500.2,542.7L1504.0,544.1L1507.8,545.5L1511.6,546.7L1515.5,548.0L1519.3,549.2L1523.2,550.3L1527.2,551.4L1531.1,552.4L1535.1,553.4L1539.1,554.3L1543.1,555.2"/></defs>
<use href="#c8" fill="none" stroke="#7878ff" stroke-width="3.3" stroke-linejoin="round"/>
<use href="#c8" fill="none" stroke="#3030ff" stroke-width="1.9" stroke-linejoin="round"/>
<defs><path id="c9" d="M1073.2,492.0L1076.3,489.0L1079.3,486.0L1082.2,483.0L1085.1,480.0L1087.8,477.0L1090.5,474.0L1093.2,471.0L1095.8,468.0L1098.3,464.9L1100.7,461.9L1103.2,458.8L1105.5,455.7L1107.8,452.6L1110.1,449.5L1112.3,446.3L1114.5,443.1L1116.6,439.9L1118.7,436.7L1120.8,433.5L1122.9,430.2L1124.9,426.8L1126.9,423.5L1128.9,420.1L1130.9,416.6L1132.8,413.2L1134.8,409.6L1136.7,406.1L1138.6,402.5L1140.5,398.9L1142.5,395.2L1144.4,391.6L1146.3,387.9L1148.3,384.2L1150.2,380.5L1152.2,376.8L1154.2,373.1L1156.2,369.5L1158.2,365.8L1160.3,362.2L1162.4,358.6L1164.5,355.1L1166.7,351.5L1168.9,348.1L1171.1,344.6L1173.4,341.3L1175.7,338.0L1178.1,334.7L1180.5,331.6L1183.0,328.5L1185.6,325.6L1188.2,322.8L1191.0,320.3L1193.9,317.9L1197.0,315.9L1200.1,314.1L1203.5,312.6L1207.0,311.5L1210.7,310.7L1214.6,310.3L1218.4,310.4L1222.2,311.0L1225.9,312.0L1229.3,313.5L1232.6,315.4L1235.7,317.6L1238.7,320.1L1241.5,322.8L1244.2,325.7L1246.8,328.7L1249.4,331.9L1251.8,335.1L1254.2,338.5L1256.6,341.9L1258.9,345.3L1261.2,348.8L1263.5,352.2L1265.8,355.6L1268.1,359.1L1270.3,362.5L1272.6,365.9L1274.9,369.4L1277.2,372.8L1279.4,376.2L1281.7,379.6L1284.0,383.0L1286.2,386.4L1288.5,389.8L1290.8,393.2L1293.1,396.6L1295.3,399.9L1297.6,403.3L1299.9,406.6L1302.2,410.0L1304.5,413.3L1306.8,416.6L1309.1,419.9L1311.4,423.2L1313.7,426.5L1316.0,429.8L1318.4,433.1L1320.7,436.3L1323.1,439.5L1325.4,442.8L1327.8,446.0L1330.2,449.1L1332.6,452.3L1335.0,455.5L1337.5,458.6L1339.9,461.7L1342.4,464.8L1344.9,467.9L1347.4,471.0L1349.9,474.0L1352.4,477.1L1355.0,480.1L1357.6,483.1L1360.2,486.0L1362.8,489.0L1365.4,491.9L1368.1,494.8L1370.8,497.7L1373.5,500.5L1376.3,503.4L1379.0,506.2L1381.8,509.0L1384.6,511.7L1387.5,514.5L1390.4,517.2L1393.3,519.8L1396.2,522.5L1399.2,525.1L1402.2,527.7L1405.2,530.3L1408.3,532.8L1411.4,535.3L1414.5,537.8L1417.7,540.2L1420.9,542.7L1424.1,545.0L1427.4,547.4L1430.7,549.7L1434.1,552.0L1437.5,554.2L1440.9,556.5L1444.4,558.7L1447.9,560.8L1451.4,562.9L1455.0,565.0"/></defs>
<use href="#c9" fill="none" stroke="#88c4c4" stroke-width="3.6" stroke-linejoin="round"/>
<use href="#c9" fill="none" stroke="#209494" stroke-width="1.9" stroke-linejoin="round"/>
<defs><path id="c10" d="M1073.2,511.2L1076.0,508.0L1078.7,504.8L1081.4,501.7L1084.0,498.6L1086.6,495.4L1089.2,492.3L1091.7,489.3L1094.2,486.2L1096.7,483.1L1099.1,480.0L1101.5,476.9L1103.8,473.8L1106.1,470.7L1108.4,467.6L1110.7,464.4L1113.0,461.3L1115.2,458.1L1117.4,454.9L1119.6,451.6L1121.7,448.3L1123.9,445.0L1126.0,441.6L1128.2,438.2L1130.3,434.8L1132.4,431.3L1134.5,427.7L1136.6,424.1L1138.7,420.5L1140.7,416.8L1142.8,413.1L1145.0,409.4L1147.1,405.7L1149.2,402.0L1151.4,398.3L1153.6,394.8L1155.8,391.2L1158.1,387.8L1160.5,384.5L1162.9,381.2L1165.5,378.1L1168.1,375.1L1171.0,372.3L1173.9,369.7L1177.1,367.2L1180.5,364.9L1184.0,362.8L1187.6,361.0L1191.4,359.4L1195.2,358.1L1199.0,357.1L1202.8,356.5L1206.6,356.2L1210.3,356.3L1213.8,356.7L1217.3,357.6L1220.6,358.9L1223.8,360.5L1226.9,362.5L1229.9,364.7L1232.7,367.2L1235.6,369.9L1238.3,372.7L1241.0,375.8L1243.7,378.9L1246.3,382.1L1248.9,385.4L1251.4,388.7L1254.0,391.9L1256.5,395.2L1259.1,398.5L1261.6,401.8L1264.1,405.0L1266.6,408.3L1269.1,411.6L1271.6,414.8L1274.1,418.1L1276.6,421.3L1279.1,424.6L1281.6,427.8L1284.1,431.0L1286.5,434.3L1289.0,437.5L1291.5,440.7L1294.0,443.9L1296.5,447.0L1299.0,450.2L1301.5,453.4L1304.0,456.5L1306.5,459.7L1309.0,462.8L1311.6,465.9L1314.1,469.0L1316.7,472.1L1319.2,475.2L1321.8,478.2L1324.4,481.3L1327.0,484.3L1329.6,487.3L1332.3,490.3L1334.9,493.3L1337.6,496.2L1340.3,499.1L1343.0,502.1L1345.7,505.0L1348.5,507.8L1351.2,510.7L1354.0,513.5L1356.8,516.3L1359.7,519.1L1362.5,521.9L1365.4,524.6L1368.4,527.4L1371.3,530.1L1374.3,532.7L1377.3,535.4L1380.3,538.0L1383.4,540.6L1386.5,543.2L1389.6,545.7L1392.8,548.2L1396.0,550.7L1399.2,553.2L1402.5,555.6L1405.8,558.0L1409.2,560.4L1412.6,562.7L1416.0,565.0"/></defs>
<use href="#c10" fill="none" stroke="#ffa8ff" stroke-width="3.8" stroke-linejoin="round"/>
<use href="#c10" fill="none" stroke="#ff20ff" stroke-width="1.8" stroke-linejoin="round"/>
</svg>
<rect x="1072" y="184.5" width="470.4000000000001" height="379.29999999999995" fill="none" stroke="#2a2a2a" stroke-width="3"/>
<text x="1072.0" y="591.8" font-size="19.5" font-weight="normal" fill="#6e6e6e" text-anchor="middle" textLength="27" lengthAdjust="spacingAndGlyphs">100</text>
<line x1="1166.1" y1="563.8" x2="1166.1" y2="568.8" stroke="#333" stroke-width="2.2"/>
<text x="1166.1" y="591.8" font-size="19.5" font-weight="normal" fill="#6e6e6e" text-anchor="middle" textLength="27" lengthAdjust="spacingAndGlyphs">120</text>
<line x1="1260.2" y1="563.8" x2="1260.2" y2="568.8" stroke="#333" stroke-width="2.2"/>
<text x="1260.2" y="591.8" font-size="19.5" font-weight="normal" fill="#6e6e6e" text-anchor="middle" textLength="27" lengthAdjust="spacingAndGlyphs">140</text>
<line x1="1354.2" y1="563.8" x2="1354.2" y2="568.8" stroke="#333" stroke-width="2.2"/>
<text x="1354.2" y="591.8" font-size="19.5" font-weight="normal" fill="#6e6e6e" text-anchor="middle" textLength="27" lengthAdjust="spacingAndGlyphs">160</text>
<line x1="1448.3" y1="563.8" x2="1448.3" y2="568.8" stroke="#333" stroke-width="2.2"/>
<text x="1448.3" y="591.8" font-size="19.5" font-weight="normal" fill="#6e6e6e" text-anchor="middle" textLength="27" lengthAdjust="spacingAndGlyphs">180</text>
<text x="1542.4" y="591.8" font-size="19.5" font-weight="normal" fill="#6e6e6e" text-anchor="middle" textLength="27" lengthAdjust="spacingAndGlyphs">200</text>
<circle cx="1090.5" cy="718.5" r="3.2" fill="#ff1010"/>
<defs><path id="c11" d="M293.5,1855.5L294.3,1860.4L295.1,1865.3L295.8,1870.2L296.4,1875.1L297.0,1880.1L297.5,1885.1L298.0,1890.0L298.5,1895.0L298.9,1900.1L299.3,1905.1L299.7,1910.1L300.1,1915.1L300.5,1920.2L300.8,1925.2L301.2,1930.3L301.6,1935.3L302.0,1940.4L302.4,1945.4L302.8,1950.4L303.2,1955.4L303.7,1960.5L304.3,1965.5L304.8,1970.5L305.4,1975.4L306.1,1980.4L306.9,1985.3L307.8,1990.2L308.8,1995.1L310.0,1999.8L311.4,2004.5L313.1,2009.1L315.0,2013.6L317.2,2018.0L319.7,2022.3L322.5,2026.4L325.7,2030.4L329.1,2034.3L332.7,2037.9L336.5,2041.4L340.5,2044.7L344.5,2047.7L348.6,2050.6L352.7,2053.3L357.0,2055.8L361.3,2058.2L365.7,2060.3L370.2,2062.3L374.7,2064.2L379.3,2065.9L384.0,2067.4L388.7,2068.8L393.4,2070.1L398.2,2071.2L403.1,2072.2L408.0,2073.1L412.9,2073.8L417.8,2074.5L422.8,2075.0L427.9,2075.5L432.9,2075.9L438.0,2076.1L443.1,2076.3L448.2,2076.5L453.3,2076.5L458.4,2076.5L463.5,2076.3L468.6,2076.1L473.8,2075.8L478.9,2075.5L484.0,2075.0L489.1,2074.5L494.1,2073.8L499.2,2073.1L504.2,2072.3L509.3,2071.4L514.2,2070.4L519.2,2069.3L524.1,2068.1L529.0,2066.8L533.8,2065.4L538.6,2064.0L543.4,2062.4L548.0,2060.7L552.7,2059.0L557.3,2057.1L561.8,2055.1L566.3,2053.1L570.7,2051.0L575.0,2048.7L579.4,2046.4L583.6,2044.0L587.8,2041.5L592.0,2038.9L596.1,2036.3L600.1,2033.5L604.1,2030.7L608.1,2027.8L612.0,2024.8L615.8,2021.8L619.6,2018.7L623.4,2015.5L627.1,2012.2L630.8,2008.9L634.4,2005.5L637.9,2002.1L641.4,1998.6L644.9,1995.0L648.3,1991.4L651.7,1987.7L655.0,1984.0L658.3,1980.2L661.5,1976.3L664.7,1972.4L667.8,1968.5L670.9,1964.5L674.0,1960.5L677.0,1956.4L680.0,1952.3L682.9,1948.1L685.7,1943.9L688.6,1939.7L691.4,1935.4L694.1,1931.1L696.8,1926.8L699.5,1922.5L702.1,1918.1L704.7,1913.7L707.2,1909.2L709.7,1904.8L712.2,1900.3L714.6,1895.8L717.0,1891.3L719.3,1886.8L721.7,1882.2L723.9,1877.7L726.1,1873.1L728.3,1868.5L730.5,1863.9L732.6,1859.3L734.7,1854.7L736.7,1850.2L738.7,1845.6L740.7,1841.0L742.6,1836.3L744.6,1831.7L746.4,1827.1L748.3,1822.5L750.1,1817.9L751.9,1813.3L753.7,1808.7L755.4,1804.0L757.1,1799.4L758.8,1794.8L760.5,1790.1L762.2,1785.5L763.8,1780.8L765.4,1776.2L767.0,1771.5L768.6,1766.9L770.2,1762.2L771.7,1757.5L773.3,1752.8L774.8,1748.2L776.3,1743.5L777.9,1738.8L779.4,1734.1L780.9,1729.4L782.4,1724.6L783.9,1719.9L785.4,1715.2L786.9,1710.5L788.4,1705.7L789.9,1701.0L791.3,1696.2L792.8,1691.5L794.3,1686.7L795.9,1681.9L797.4,1677.1L798.9,1672.3L800.4,1667.5L802.0,1662.7L803.6,1657.9L805.2,1653.1L806.8,1648.3L808.5,1643.5L810.3,1638.8L812.1,1634.0L814.0,1629.3L816.0,1624.6L818.1,1619.9L820.3,1615.3L822.6,1610.7L825.0,1606.2L827.5,1601.7L830.2,1597.2L833.0,1592.8L836.0,1588.5L839.1,1584.2L842.4,1580.0L845.9,1575.8L849.6,1571.8L853.4,1567.9L857.3,1564.3L861.3,1561.2L865.3,1558.7L869.3,1556.9L873.1,1556.0L876.9,1556.0L880.6,1557.0L884.2,1558.8L887.7,1561.4L891.0,1564.7L894.3,1568.3L897.5,1572.2L900.6,1576.3L903.7,1580.5L906.6,1584.7L909.5,1588.9L912.3,1593.2L915.0,1597.6L917.7,1602.0L920.2,1606.4L922.8,1610.9L925.2,1615.4L927.7,1619.9L930.0,1624.5L932.3,1629.1L934.6,1633.7L936.8,1638.4L939.0,1643.0L941.1,1647.7L943.2,1652.4L945.3,1657.0L947.4,1661.7L949.4,1666.4L951.4,1671.1L953.4,1675.8L955.3,1680.4L957.3,1685.1L959.2,1689.7L961.1,1694.4L963.0,1699.0L964.8,1703.7L966.7,1708.3L968.6,1713.0L970.4,1717.6L972.2,1722.2L974.1,1726.8L975.9,1731.4L977.7,1736.1L979.5,1740.7L981.3,1745.3L983.1,1749.9L985.0,1754.5L986.8,1759.0L988.6,1763.6L990.4,1768.2L992.2,1772.8L994.1,1777.4L995.9,1781.9L997.7,1786.5L999.6,1791.1L1001.5,1795.6L1003.3,1800.2L1005.2,1804.7L1007.1,1809.3L1009.1,1813.8L1011.0,1818.4L1013.0,1822.9L1014.9,1827.4L1016.9,1832.0L1019.0,1836.5L1021.0,1841.0L1023.1,1845.5L1025.2,1850.1L1027.3,1854.6L1029.5,1859.1L1031.6,1863.6L1033.8,1868.1L1036.1,1872.6L1038.4,1877.1L1040.7,1881.6L1043.0,1886.1L1045.4,1890.6L1047.8,1895.0L1050.2,1899.5L1052.6,1903.9L1055.1,1908.3L1057.7,1912.7L1060.2,1917.1L1062.8,1921.5L1065.4,1925.9L1068.1,1930.2L1070.8,1934.5L1073.5,1938.8L1076.3,1943.1L1079.1,1947.3L1081.9,1951.5L1084.8,1955.7L1087.7,1959.9L1090.6,1964.0L1093.6,1968.1L1096.6,1972.2L1099.6,1976.2L1102.7,1980.2L1105.8,1984.2L1109.0,1988.1L1112.2,1992.0L1115.4,1995.8L1118.7,1999.6L1122.0,2003.4L1125.4,2007.1L1128.8,2010.8L1132.2,2014.5L1135.7,2018.1L1139.2,2021.6L1142.8,2025.1L1146.4,2028.6L1150.0,2032.0L1153.7,2035.3L1157.4,2038.6L1161.2,2041.8L1165.0,2045.0L1168.8,2048.2L1172.7,2051.2L1176.7,2054.2L1180.6,2057.2L1184.7,2060.1L1188.7,2062.9L1192.8,2065.7L1197.0,2068.4L1201.2,2071.0L1205.4,2073.6L1209.7,2076.1L1214.0,2078.6L1218.3,2081.0L1222.7,2083.3L1227.1,2085.6L1231.5,2087.8L1236.0,2089.9L1240.5,2092.0L1245.1,2094.0L1249.6,2096.0L1254.2,2097.8L1258.9,2099.7L1263.5,2101.4L1268.2,2103.1L1272.9,2104.7L1277.7,2106.2L1282.4,2107.7L1287.2,2109.1L1292.0,2110.5L1296.8,2111.7L1301.7,2112.9L1306.5,2114.1L1311.4,2115.1L1316.3,2116.1L1321.2,2117.0L1326.2,2117.9L1331.1,2118.7L1336.1,2119.4L1341.1,2120.0L1346.1,2120.6L1351.1,2121.1L1356.1,2121.5L1361.1,2121.9L1366.1,2122.1L1371.2,2122.3L1376.2,2122.5L1381.3,2122.6L1386.3,2122.6L1391.4,2122.6L1396.4,2122.6L1401.5,2122.5L1406.6,2122.4L1411.6,2122.3L1416.7,2122.2L1421.8,2122.0L1426.9,2121.9L1431.9,2121.7L1437.0,2121.5L1442.0,2121.4L1447.1,2121.2L1452.1,2121.1L1457.2,2121.0L1462.2,2121.0L1467.2,2120.9L1472.2,2121.0L1477.2,2121.0L1482.2,2121.1L1487.2,2121.2L1492.2,2121.4L1497.1,2121.6L1502.0,2121.8L1506.9,2122.0L1511.8,2122.2L1516.7,2122.4L1521.6,2122.6L1526.4,2122.8L1531.3,2122.9L1536.1,2123.1L1540.8,2123.2L1545.6,2123.3"/></defs>
<use href="#c11" fill="none" stroke="#b4b4b4" stroke-width="3.7" stroke-linejoin="round" stroke-linecap="round"/>
<use href="#c11" fill="none" stroke="#242424" stroke-width="1.9" stroke-linejoin="round" stroke-linecap="round"/>
<defs><path id="c12" d="M293.1,1905.3L293.8,1910.2L294.4,1915.1L295.1,1920.0L295.7,1924.9L296.3,1929.9L296.8,1934.9L297.4,1939.8L297.9,1944.9L298.4,1949.9L299.0,1954.9L299.5,1959.9L300.0,1965.0L300.5,1970.0L300.9,1975.1L301.4,1980.1L301.9,1985.2L302.4,1990.2L302.9,1995.3L303.5,2000.3L304.0,2005.3L304.5,2010.4L305.1,2015.4L305.6,2020.4L306.2,2025.3L306.8,2030.3L307.5,2035.2L308.2,2040.1L309.1,2045.0L310.1,2049.7L311.4,2054.4L313.0,2059.0L314.9,2063.5L317.2,2067.8L320.0,2072.0L323.2,2076.1L326.8,2079.9L330.6,2083.6L334.6,2087.1L338.7,2090.3L342.9,2093.3L347.2,2096.1L351.5,2098.7L355.8,2101.1L360.3,2103.3L364.7,2105.3L369.3,2107.2L373.8,2108.8L378.5,2110.3L383.1,2111.6L387.9,2112.8L392.6,2113.8L397.4,2114.6L402.2,2115.3L407.1,2115.9L412.0,2116.3L416.9,2116.6L421.8,2116.8L426.8,2116.9L431.7,2116.9L436.7,2116.7L441.7,2116.5L446.8,2116.1L451.8,2115.7L456.8,2115.2L461.8,2114.6L466.9,2114.0L471.9,2113.3L476.9,2112.5L481.9,2111.6L487.0,2110.7L492.0,2109.7L496.9,2108.7L501.9,2107.5L506.8,2106.3L511.8,2105.0L516.7,2103.7L521.5,2102.3L526.4,2100.7L531.2,2099.1L535.9,2097.5L540.7,2095.7L545.4,2093.9L550.0,2092.0L554.6,2090.0L559.2,2087.9L563.7,2085.7L568.1,2083.5L572.5,2081.1L576.9,2078.7L581.1,2076.2L585.4,2073.6L589.5,2070.9L593.6,2068.1L597.7,2065.3L601.7,2062.4L605.6,2059.4L609.5,2056.3L613.4,2053.2L617.2,2050.0L620.9,2046.7L624.6,2043.4L628.2,2040.0L631.8,2036.5L635.4,2033.0L638.8,2029.4L642.3,2025.8L645.7,2022.1L649.0,2018.3L652.3,2014.5L655.6,2010.7L658.8,2006.8L661.9,2002.9L665.0,1998.9L668.1,1994.9L671.1,1990.8L674.1,1986.8L677.0,1982.6L679.9,1978.5L682.8,1974.3L685.6,1970.1L688.3,1965.8L691.1,1961.6L693.8,1957.3L696.4,1952.9L699.0,1948.6L701.6,1944.2L704.1,1939.9L706.6,1935.5L709.1,1931.1L711.5,1926.7L713.9,1922.2L716.2,1917.8L718.5,1913.4L720.8,1908.9L723.0,1904.4L725.2,1899.9L727.4,1895.4L729.6,1890.9L731.7,1886.4L733.8,1881.9L735.8,1877.3L737.8,1872.8L739.8,1868.2L741.8,1863.6L743.7,1859.0L745.6,1854.5L747.5,1849.8L749.3,1845.2L751.1,1840.6L752.9,1836.0L754.7,1831.3L756.4,1826.7L758.1,1822.0L759.8,1817.4L761.5,1812.7L763.2,1808.0L764.8,1803.3L766.4,1798.6L768.0,1793.9L769.7,1789.2L771.3,1784.5L772.9,1779.8L774.5,1775.1L776.0,1770.4L777.6,1765.6L779.3,1760.9L780.9,1756.2L782.5,1751.5L784.1,1746.7L785.8,1742.0L787.4,1737.3L789.1,1732.6L790.8,1727.9L792.5,1723.1L794.3,1718.4L796.0,1713.7L797.8,1709.0L799.6,1704.3L801.5,1699.6L803.4,1694.9L805.3,1690.2L807.3,1685.5L809.3,1680.9L811.4,1676.2L813.5,1671.5L815.6,1666.9L817.8,1662.2L820.1,1657.6L822.4,1653.0L824.8,1648.4L827.2,1643.8L829.7,1639.2L832.3,1634.6L834.9,1630.0L837.6,1625.5L840.3,1620.9L843.1,1616.5L846.1,1612.2L849.1,1608.1L852.3,1604.5L855.6,1601.4L859.1,1598.9L862.8,1597.2L866.7,1596.4L870.8,1596.5L875.2,1597.7L879.6,1599.7L883.8,1602.2L887.9,1605.0L891.6,1608.1L895.2,1611.4L898.5,1615.0L901.6,1618.8L904.6,1622.8L907.3,1627.0L910.0,1631.3L912.4,1635.8L914.8,1640.3L917.1,1645.0L919.2,1649.8L921.3,1654.6L923.4,1659.4L925.4,1664.3L927.4,1669.1L929.4,1674.0L931.4,1678.8L933.3,1683.6L935.3,1688.3L937.3,1693.1L939.3,1697.8L941.3,1702.5L943.3,1707.1L945.2,1711.8L947.2,1716.4L949.2,1721.0L951.2,1725.7L953.2,1730.2L955.2,1734.8L957.2,1739.4L959.2,1743.9L961.2,1748.5L963.2,1753.0L965.2,1757.5L967.1,1762.1L969.1,1766.6L971.1,1771.1L973.1,1775.6L975.1,1780.1L977.1,1784.6L979.1,1789.1L981.1,1793.6L983.1,1798.2L985.1,1802.7L987.1,1807.2L989.1,1811.7L991.1,1816.3L993.1,1820.8L995.1,1825.3L997.1,1829.9L999.2,1834.4L1001.2,1838.9L1003.2,1843.5L1005.3,1848.0L1007.4,1852.6L1009.4,1857.1L1011.5,1861.6L1013.6,1866.2L1015.8,1870.7L1017.9,1875.2L1020.1,1879.7L1022.3,1884.2L1024.5,1888.7L1026.7,1893.2L1029.0,1897.7L1031.3,1902.1L1033.6,1906.6L1035.9,1911.0L1038.3,1915.5L1040.7,1919.9L1043.1,1924.3L1045.6,1928.7L1048.1,1933.1L1050.6,1937.4L1053.2,1941.8L1055.8,1946.1L1058.4,1950.4L1061.1,1954.7L1063.8,1959.0L1066.5,1963.2L1069.2,1967.4L1072.0,1971.6L1074.9,1975.8L1077.7,1979.9L1080.6,1984.1L1083.6,1988.2L1086.5,1992.2L1089.5,1996.3L1092.6,2000.3L1095.7,2004.3L1098.8,2008.2L1101.9,2012.1L1105.1,2016.0L1108.4,2019.8L1111.6,2023.6L1114.9,2027.4L1118.3,2031.2L1121.7,2034.9L1125.1,2038.5L1128.6,2042.1L1132.1,2045.7L1135.6,2049.3L1139.2,2052.7L1142.8,2056.2L1146.5,2059.6L1150.2,2063.0L1153.9,2066.3L1157.7,2069.6L1161.6,2072.8L1165.4,2075.9L1169.4,2079.1L1173.3,2082.1L1177.3,2085.2L1181.4,2088.1L1185.5,2091.0L1189.6,2093.9L1193.7,2096.7L1197.9,2099.4L1202.2,2102.1L1206.5,2104.7L1210.8,2107.3L1215.1,2109.8L1219.5,2112.2L1223.9,2114.6L1228.4,2116.8L1232.8,2119.1L1237.3,2121.2L1241.9,2123.3L1246.4,2125.3L1251.0,2127.2L1255.7,2129.1L1260.3,2130.8L1265.0,2132.5L1269.7,2134.2L1274.4,2135.7L1279.1,2137.1L1283.9,2138.5L1288.7,2139.8L1293.5,2141.0L1298.3,2142.1L1303.2,2143.1L1308.0,2144.0L1312.9,2144.9L1317.8,2145.6L1322.7,2146.3L1327.6,2146.9L1332.6,2147.5L1337.5,2148.0L1342.5,2148.5L1347.4,2148.9L1352.4,2149.3L1357.4,2149.7L1362.4,2150.0L1367.4,2150.4L1372.4,2150.7L1377.5,2151.0L1382.5,2151.3L1387.5,2151.6L1392.6,2151.9L1397.6,2152.3L1402.6,2152.6L1407.7,2153.0L1412.7,2153.4L1417.7,2153.9L1422.8,2154.3L1427.8,2154.7L1432.8,2155.1L1437.9,2155.4L1442.9,2155.8L1447.9,2156.1L1452.9,2156.3L1457.9,2156.5L1462.9,2156.6L1467.9,2156.7L1472.8,2156.7L1477.8,2156.7L1482.7,2156.6L1487.7,2156.5L1492.6,2156.4L1497.5,2156.4L1502.4,2156.3L1507.3,2156.2L1512.1,2156.2L1517.0,2156.3L1521.8,2156.4L1526.6,2156.5L1531.4,2156.8L1536.1,2157.1L1540.9,2157.5L1545.6,2158.1"/></defs>
<use href="#c12" fill="none" stroke="#ff6a6a" stroke-width="3.4" stroke-linejoin="round" stroke-linecap="round"/>
<use href="#c12" fill="none" stroke="#ff3434" stroke-width="2.0" stroke-linejoin="round" stroke-linecap="round"/>
<defs><path id="c13" d="M294.0,1963.9L294.9,1968.8L295.8,1973.7L296.6,1978.6L297.4,1983.5L298.1,1988.4L298.8,1993.4L299.5,1998.3L300.1,2003.3L300.6,2008.3L301.2,2013.3L301.7,2018.3L302.3,2023.3L302.8,2028.3L303.3,2033.3L303.7,2038.4L304.2,2043.4L304.7,2048.4L305.3,2053.5L305.8,2058.5L306.3,2063.5L307.0,2068.5L307.7,2073.5L308.5,2078.4L309.5,2083.2L310.6,2088.0L312.0,2092.7L313.7,2097.3L315.6,2101.7L317.9,2106.0L320.5,2110.2L323.6,2114.2L327.0,2118.0L330.7,2121.5L334.8,2124.9L339.0,2128.1L343.4,2131.0L347.9,2133.6L352.5,2136.0L357.1,2138.1L361.7,2140.0L366.4,2141.6L371.1,2143.1L375.9,2144.3L380.6,2145.4L385.4,2146.2L390.3,2147.0L395.1,2147.6L400.0,2148.0L404.9,2148.4L409.8,2148.7L414.7,2148.8L419.7,2149.0L424.6,2149.0L429.6,2149.0L434.6,2148.9L439.6,2148.7L444.6,2148.4L449.6,2148.1L454.6,2147.7L459.6,2147.3L464.6,2146.7L469.6,2146.1L474.6,2145.4L479.5,2144.7L484.5,2143.9L489.5,2143.0L494.4,2142.0L499.3,2140.9L504.2,2139.8L509.1,2138.6L514.0,2137.4L518.9,2136.0L523.7,2134.6L528.5,2133.1L533.3,2131.5L538.0,2129.9L542.7,2128.1L547.4,2126.3L552.0,2124.4L556.6,2122.5L561.2,2120.4L565.7,2118.3L570.1,2116.1L574.6,2113.8L578.9,2111.4L583.3,2108.9L587.5,2106.4L591.8,2103.8L595.9,2101.1L600.0,2098.3L604.1,2095.4L608.1,2092.4L612.0,2089.3L615.9,2086.2L619.7,2083.0L623.5,2079.7L627.1,2076.3L630.8,2072.9L634.4,2069.4L637.9,2065.8L641.4,2062.2L644.8,2058.5L648.2,2054.7L651.5,2050.9L654.8,2047.1L658.0,2043.2L661.1,2039.2L664.3,2035.3L667.3,2031.2L670.4,2027.2L673.3,2023.1L676.3,2019.0L679.2,2014.8L682.0,2010.6L684.8,2006.4L687.6,2002.2L690.3,1998.0L693.0,1993.8L695.6,1989.5L698.2,1985.2L700.8,1980.9L703.3,1976.6L705.8,1972.3L708.2,1967.9L710.6,1963.6L713.0,1959.2L715.3,1954.8L717.7,1950.4L719.9,1946.0L722.2,1941.6L724.4,1937.1L726.6,1932.7L728.7,1928.2L730.9,1923.7L733.0,1919.2L735.1,1914.7L737.1,1910.2L739.1,1905.7L741.1,1901.2L743.1,1896.6L745.0,1892.0L747.0,1887.5L748.9,1882.9L750.8,1878.3L752.6,1873.7L754.5,1869.1L756.3,1864.5L758.1,1859.8L759.9,1855.2L761.8,1850.6L763.5,1845.9L765.3,1841.3L767.1,1836.6L768.9,1831.9L770.7,1827.3L772.5,1822.6L774.3,1818.0L776.2,1813.3L778.0,1808.7L779.9,1804.0L781.8,1799.3L783.7,1794.7L785.6,1790.1L787.5,1785.4L789.5,1780.8L791.5,1776.2L793.6,1771.6L795.7,1767.0L797.8,1762.4L800.0,1757.8L802.2,1753.2L804.5,1748.7L806.8,1744.1L809.2,1739.6L811.6,1735.1L814.1,1730.6L816.6,1726.1L819.2,1721.7L821.9,1717.2L824.6,1712.8L827.5,1708.4L830.3,1704.1L833.3,1699.8L836.4,1695.7L839.6,1691.9L842.9,1688.3L846.3,1685.0L849.9,1682.2L853.6,1679.7L857.5,1677.8L861.5,1676.4L865.8,1675.6L870.1,1675.5L874.6,1676.1L878.9,1677.4L883.0,1679.5L886.8,1682.3L890.5,1685.7L893.9,1689.4L897.2,1693.5L900.3,1697.9L903.3,1702.3L906.1,1706.8L908.8,1711.3L911.4,1715.9L913.8,1720.5L916.2,1725.2L918.5,1729.8L920.7,1734.5L922.9,1739.2L925.1,1743.9L927.2,1748.6L929.3,1753.2L931.3,1757.9L933.4,1762.5L935.4,1767.2L937.4,1771.8L939.4,1776.4L941.4,1781.0L943.3,1785.6L945.3,1790.2L947.3,1794.8L949.3,1799.3L951.2,1803.9L953.2,1808.4L955.2,1813.0L957.2,1817.5L959.2,1822.0L961.3,1826.5L963.3,1831.0L965.4,1835.5L967.5,1839.9L969.7,1844.4L971.8,1848.8L974.0,1853.2L976.2,1857.7L978.4,1862.1L980.6,1866.5L982.9,1870.9L985.2,1875.3L987.4,1879.7L989.8,1884.0L992.1,1888.4L994.4,1892.8L996.8,1897.1L999.2,1901.5L1001.6,1905.8L1004.0,1910.2L1006.4,1914.5L1008.8,1918.9L1011.3,1923.2L1013.8,1927.5L1016.2,1931.9L1018.8,1936.2L1021.3,1940.5L1023.8,1944.8L1026.3,1949.2L1028.9,1953.5L1031.5,1957.8L1034.0,1962.1L1036.6,1966.5L1039.3,1970.8L1041.9,1975.1L1044.5,1979.4L1047.2,1983.7L1049.8,1988.0L1052.5,1992.3L1055.2,1996.6L1058.0,2000.9L1060.7,2005.2L1063.5,2009.4L1066.3,2013.6L1069.1,2017.8L1071.9,2022.0L1074.8,2026.2L1077.7,2030.4L1080.6,2034.5L1083.5,2038.6L1086.5,2042.7L1089.5,2046.7L1092.5,2050.8L1095.5,2054.8L1098.6,2058.7L1101.8,2062.6L1104.9,2066.5L1108.1,2070.4L1111.3,2074.2L1114.6,2078.0L1117.9,2081.7L1121.2,2085.4L1124.6,2089.1L1128.0,2092.7L1131.4,2096.2L1134.9,2099.8L1138.4,2103.2L1142.0,2106.6L1145.6,2110.0L1149.3,2113.3L1153.0,2116.5L1156.7,2119.7L1160.5,2122.9L1164.4,2125.9L1168.3,2128.9L1172.2,2131.9L1176.2,2134.8L1180.2,2137.6L1184.3,2140.3L1188.5,2143.0L1192.7,2145.6L1196.9,2148.2L1201.2,2150.7L1205.5,2153.1L1209.9,2155.4L1214.3,2157.7L1218.8,2159.9L1223.3,2162.1L1227.8,2164.1L1232.3,2166.2L1237.0,2168.1L1241.6,2170.0L1246.3,2171.8L1250.9,2173.5L1255.7,2175.2L1260.4,2176.8L1265.2,2178.3L1270.0,2179.8L1274.9,2181.2L1279.7,2182.5L1284.6,2183.7L1289.5,2184.9L1294.4,2186.0L1299.3,2187.1L1304.3,2188.0L1309.3,2189.0L1314.2,2189.8L1319.2,2190.6L1324.2,2191.3L1329.2,2192.0L1334.3,2192.6L1339.3,2193.1L1344.3,2193.7L1349.4,2194.1L1354.4,2194.6L1359.4,2195.0L1364.5,2195.3L1369.5,2195.7L1374.6,2196.0L1379.6,2196.2L1384.6,2196.5L1389.7,2196.7L1394.7,2196.9L1399.7,2197.1L1404.7,2197.3L1409.7,2197.5L1414.7,2197.7L1419.6,2197.8L1424.6,2198.0L1429.5,2198.2L1434.4,2198.4L1439.3,2198.6L1444.3,2198.8L1449.2,2199.0L1454.1,2199.2L1459.0,2199.5L1463.8,2199.8L1468.7,2200.1L1473.6,2200.4L1478.5,2200.8L1483.4,2201.2L1488.3,2201.6L1493.2,2202.1L1498.1,2202.6L1503.1,2203.2L1508.0,2203.8L1512.9,2204.5L1517.9,2205.2L1522.8,2206.1L1527.5,2207.3L1532.0,2208.9L1536.1,2211.0L1539.8,2213.8L1543.0,2217.4L1545.6,2222.0"/></defs>
<use href="#c13" fill="none" stroke="#7878ff" stroke-width="3.3" stroke-linejoin="round" stroke-linecap="round"/>
<use href="#c13" fill="none" stroke="#3030ff" stroke-width="1.9" stroke-linejoin="round" stroke-linecap="round"/>
<defs><path id="c14" d="M294.3,2012.0L294.4,2017.0L294.6,2022.0L295.0,2027.0L295.5,2032.0L296.2,2037.0L296.9,2042.0L297.6,2046.9L298.3,2051.9L299.0,2056.9L299.6,2061.8L300.2,2066.8L300.7,2071.7L301.1,2076.7L301.5,2081.6L301.9,2086.6L302.2,2091.6L302.6,2096.5L303.0,2101.5L303.4,2106.4L303.8,2111.4L304.3,2116.4L304.9,2121.4L305.5,2126.4L306.2,2131.3L307.0,2136.4L307.9,2141.4L309.0,2146.4L310.2,2151.4L311.5,2156.4L312.9,2161.3L314.5,2166.2L316.3,2171.0L318.2,2175.8L320.2,2180.4L322.5,2184.9L324.9,2189.2L327.5,2193.4L330.2,2197.4L333.2,2201.2L336.4,2204.8L339.7,2208.2L343.3,2211.3L347.0,2214.2L351.0,2216.9L355.1,2219.3L359.4,2221.5L363.9,2223.5L368.4,2225.2L373.1,2226.8L377.9,2228.2L382.8,2229.5L387.8,2230.5L392.8,2231.4L397.9,2232.2L403.0,2232.9L408.1,2233.4L413.2,2233.8L418.4,2234.1L423.5,2234.3L428.6,2234.4L433.8,2234.4L438.9,2234.3L444.0,2234.1L449.0,2233.8L454.1,2233.3L459.2,2232.8L464.2,2232.2L469.2,2231.5L474.2,2230.8L479.2,2229.9L484.1,2228.9L489.1,2227.8L494.0,2226.7L498.8,2225.4L503.7,2224.1L508.5,2222.6L513.3,2221.1L518.1,2219.5L522.8,2217.8L527.5,2216.0L532.1,2214.2L536.7,2212.2L541.3,2210.2L545.8,2208.1L550.3,2205.9L554.7,2203.6L559.1,2201.3L563.5,2198.8L567.8,2196.3L572.0,2193.7L576.2,2191.1L580.4,2188.3L584.4,2185.5L588.5,2182.6L592.4,2179.7L596.4,2176.7L600.2,2173.6L604.0,2170.4L607.7,2167.1L611.4,2163.8L615.0,2160.5L618.6,2157.0L622.1,2153.5L625.5,2150.0L628.8,2146.3L632.2,2142.7L635.4,2138.9L638.6,2135.1L641.8,2131.3L644.9,2127.4L647.9,2123.5L650.9,2119.5L653.8,2115.5L656.7,2111.4L659.6,2107.3L662.4,2103.1L665.2,2098.9L667.9,2094.7L670.6,2090.5L673.2,2086.2L675.8,2081.8L678.4,2077.5L680.9,2073.1L683.4,2068.7L685.8,2064.3L688.2,2059.8L690.6,2055.3L693.0,2050.8L695.3,2046.3L697.6,2041.8L699.8,2037.3L702.1,2032.7L704.3,2028.2L706.5,2023.6L708.6,2019.0L710.8,2014.5L712.9,2009.9L715.0,2005.3L717.1,2000.7L719.1,1996.2L721.2,1991.6L723.2,1987.0L725.2,1982.5L727.2,1977.9L729.2,1973.3L731.1,1968.8L733.1,1964.2L735.0,1959.7L737.0,1955.2L738.9,1950.6L740.8,1946.1L742.7,1941.5L744.6,1937.0L746.4,1932.4L748.3,1927.9L750.2,1923.3L752.0,1918.8L753.9,1914.2L755.7,1909.6L757.5,1905.1L759.4,1900.5L761.2,1895.9L763.0,1891.4L764.8,1886.8L766.7,1882.2L768.5,1877.6L770.3,1873.0L772.1,1868.3L773.9,1863.7L775.7,1859.1L777.5,1854.4L779.3,1849.8L781.2,1845.1L783.0,1840.4L784.8,1835.7L786.6,1831.0L788.5,1826.3L790.3,1821.6L792.1,1816.8L794.0,1812.1L795.8,1807.3L797.7,1802.5L799.6,1797.7L801.5,1792.9L803.4,1788.0L805.2,1783.2L807.2,1778.3L809.1,1773.4L811.0,1768.5L813.0,1763.6L815.0,1758.8L817.1,1754.0L819.3,1749.3L821.5,1744.7L823.9,1740.2L826.4,1736.0L829.1,1731.9L831.9,1728.0L834.9,1724.4L838.2,1721.0L841.6,1718.0L845.3,1715.2L849.2,1712.8L853.4,1710.8L857.8,1709.2L862.4,1708.3L866.9,1708.3L871.2,1709.6L875.2,1712.0L879.0,1715.4L882.6,1719.4L886.0,1723.9L889.2,1728.6L892.2,1733.4L895.0,1738.1L897.7,1742.6L900.3,1747.1L902.7,1751.5L905.1,1755.9L907.3,1760.3L909.5,1764.6L911.6,1769.0L913.7,1773.4L915.8,1777.8L917.8,1782.3L919.7,1786.8L921.7,1791.4L923.6,1795.9L925.5,1800.5L927.4,1805.1L929.3,1809.8L931.1,1814.5L933.0,1819.1L934.8,1823.8L936.6,1828.5L938.4,1833.2L940.2,1837.9L942.0,1842.7L943.8,1847.4L945.6,1852.1L947.5,1856.8L949.3,1861.5L951.1,1866.2L953.0,1870.9L954.9,1875.6L956.8,1880.2L958.7,1884.9L960.6,1889.5L962.6,1894.1L964.5,1898.7L966.5,1903.3L968.5,1907.9L970.5,1912.5L972.6,1917.0L974.6,1921.5L976.7,1926.1L978.8,1930.6L980.9,1935.1L983.0,1939.6L985.2,1944.1L987.4,1948.6L989.5,1953.0L991.7,1957.5L994.0,1962.0L996.2,1966.4L998.4,1970.8L1000.7,1975.3L1003.0,1979.7L1005.3,1984.1L1007.6,1988.5L1009.9,1992.9L1012.3,1997.3L1014.6,2001.7L1017.0,2006.1L1019.4,2010.5L1021.8,2014.9L1024.2,2019.3L1026.6,2023.6L1029.0,2028.0L1031.5,2032.4L1033.9,2036.7L1036.4,2041.1L1038.9,2045.5L1041.3,2049.8L1043.8,2054.2L1046.3,2058.6L1048.8,2062.9L1051.3,2067.3L1053.8,2071.6L1056.4,2076.0L1059.0,2080.3L1061.5,2084.6L1064.1,2088.9L1066.7,2093.2L1069.4,2097.5L1072.0,2101.7L1074.7,2106.0L1077.5,2110.2L1080.2,2114.4L1083.0,2118.6L1085.8,2122.8L1088.6,2126.9L1091.5,2131.0L1094.4,2135.1L1097.4,2139.1L1100.3,2143.1L1103.4,2147.1L1106.5,2151.1L1109.6,2155.0L1112.7,2158.9L1115.9,2162.7L1119.2,2166.5L1122.5,2170.3L1125.9,2174.0L1129.3,2177.7L1132.7,2181.3L1136.2,2184.9L1139.8,2188.5L1143.4,2192.0L1147.0,2195.4L1150.7,2198.8L1154.5,2202.2L1158.3,2205.5L1162.1,2208.7L1166.0,2211.9L1169.9,2215.0L1173.9,2218.0L1177.9,2221.0L1181.9,2224.0L1186.0,2226.8L1190.1,2229.6L1194.3,2232.4L1198.5,2235.0L1202.8,2237.6L1207.1,2240.2L1211.4,2242.6L1215.7,2245.0L1220.1,2247.3L1224.6,2249.5L1229.1,2251.7L1233.6,2253.8L1238.1,2255.8L1242.7,2257.7L1247.3,2259.5L1251.9,2261.2L1256.6,2262.9L1261.3,2264.5L1266.1,2265.9L1270.8,2267.3L1275.6,2268.6L1280.4,2269.9L1285.3,2271.0L1290.1,2272.1L1295.0,2273.2L1299.9,2274.1L1304.9,2275.0L1309.8,2275.9L1314.8,2276.6L1319.8,2277.4L1324.8,2278.1L1329.8,2278.7L1334.8,2279.3L1339.8,2279.9L1344.8,2280.4L1349.9,2280.9L1354.9,2281.3L1360.0,2281.8L1365.0,2282.2L1370.1,2282.6L1375.1,2283.0L1380.2,2283.3L1385.2,2283.7L1390.3,2284.0L1395.3,2284.4L1400.3,2284.7L1405.3,2285.0L1410.4,2285.4L1415.3,2285.8L1420.3,2286.1L1425.3,2286.5L1430.2,2286.9L1435.2,2287.4L1440.1,2287.8L1445.0,2288.3L1449.9,2288.8L1454.7,2289.4L1459.5,2290.0L1464.3,2290.6L1469.1,2291.3L1473.8,2292.0L1478.5,2292.8L1483.2,2293.6L1487.8,2294.6L1492.2,2295.8L1496.3,2297.7L1499.9,2300.3L1502.9,2304.0L1505.2,2308.8L1507.0,2314.2L1508.5,2319.8L1510.0,2325.1L1511.6,2329.6L1513.6,2332.8L1516.2,2334.3L1519.4,2334.1L1523.1,2332.5L1527.2,2330.0L1531.6,2326.8L1536.2,2323.3L1540.9,2320.0L1545.6,2317.2"/></defs>
<use href="#c14" fill="none" stroke="#88c4c4" stroke-width="3.6" stroke-linejoin="round" stroke-linecap="round"/>
<use href="#c14" fill="none" stroke="#209494" stroke-width="1.9" stroke-linejoin="round" stroke-linecap="round"/>
<defs><path id="c15" d="M293.3,2062.6L294.2,2067.1L294.9,2071.6L295.7,2076.3L296.3,2081.0L296.9,2085.9L297.5,2090.8L297.9,2095.8L298.4,2100.8L298.8,2105.9L299.2,2111.1L299.5,2116.3L299.9,2121.5L300.2,2126.8L300.5,2132.0L300.8,2137.3L301.1,2142.6L301.4,2147.9L301.6,2153.1L302.0,2158.4L302.3,2163.6L302.6,2168.8L303.0,2173.9L303.5,2179.0L304.1,2184.0L304.9,2188.9L305.7,2193.8L306.8,2198.6L308.1,2203.3L309.5,2207.9L311.3,2212.4L313.3,2216.8L315.6,2221.0L318.3,2225.1L321.1,2229.1L324.3,2233.0L327.6,2236.6L331.1,2240.2L334.8,2243.5L338.5,2246.7L342.4,2249.7L346.4,2252.6L350.5,2255.2L354.7,2257.7L358.9,2260.1L363.3,2262.3L367.7,2264.3L372.2,2266.2L376.8,2268.0L381.5,2269.6L386.2,2271.1L391.0,2272.4L395.8,2273.6L400.7,2274.7L405.6,2275.6L410.6,2276.4L415.6,2277.2L420.6,2277.7L425.7,2278.2L430.8,2278.6L435.8,2278.9L440.9,2279.1L446.1,2279.1L451.2,2279.1L456.3,2279.0L461.4,2278.8L466.5,2278.5L471.6,2278.1L476.7,2277.7L481.7,2277.1L486.8,2276.5L491.8,2275.7L496.9,2274.9L501.9,2274.0L506.8,2273.0L511.8,2272.0L516.7,2270.8L521.6,2269.6L526.5,2268.3L531.4,2266.8L536.2,2265.3L540.9,2263.8L545.7,2262.1L550.4,2260.4L555.1,2258.5L559.7,2256.6L564.3,2254.6L568.8,2252.6L573.3,2250.4L577.7,2248.2L582.1,2245.8L586.5,2243.4L590.8,2241.0L595.0,2238.4L599.2,2235.8L603.3,2233.1L607.3,2230.3L611.3,2227.4L615.2,2224.5L619.1,2221.4L622.9,2218.3L626.6,2215.2L630.3,2211.9L634.0,2208.6L637.5,2205.3L641.0,2201.8L644.5,2198.3L647.9,2194.8L651.2,2191.2L654.5,2187.5L657.8,2183.8L661.0,2180.0L664.1,2176.2L667.2,2172.3L670.3,2168.3L673.3,2164.4L676.3,2160.3L679.2,2156.3L682.1,2152.2L684.9,2148.0L687.7,2143.8L690.4,2139.6L693.1,2135.4L695.8,2131.1L698.4,2126.8L701.0,2122.4L703.6,2118.1L706.1,2113.7L708.6,2109.2L711.1,2104.8L713.5,2100.3L715.9,2095.9L718.2,2091.4L720.6,2086.9L722.9,2082.3L725.1,2077.8L727.4,2073.2L729.6,2068.7L731.8,2064.1L734.0,2059.5L736.1,2054.9L738.2,2050.3L740.3,2045.7L742.3,2041.1L744.4,2036.5L746.4,2031.8L748.3,2027.2L750.3,2022.5L752.2,2017.9L754.1,2013.2L756.0,2008.5L757.9,2003.9L759.7,1999.2L761.5,1994.5L763.3,1989.8L765.1,1985.2L766.8,1980.5L768.6,1975.8L770.3,1971.1L771.9,1966.4L773.6,1961.8L775.3,1957.1L776.9,1952.4L778.5,1947.7L780.1,1943.1L781.6,1938.4L783.2,1933.8L784.7,1929.1L786.3,1924.5L787.8,1919.8L789.4,1915.2L790.9,1910.6L792.5,1905.9L794.1,1901.3L795.7,1896.7L797.4,1892.2L799.1,1887.6L800.8,1883.0L802.6,1878.5L804.4,1873.9L806.3,1869.4L808.3,1864.9L810.3,1860.4L812.4,1855.9L814.6,1851.4L816.9,1847.0L819.2,1842.5L821.7,1838.1L824.2,1833.7L826.9,1829.3L829.7,1825.0L832.6,1820.6L835.6,1816.3L838.7,1812.0L842.0,1807.7L845.4,1803.5L848.9,1799.4L852.6,1795.7L856.3,1792.4L860.1,1789.7L863.9,1787.7L867.7,1786.5L871.6,1786.4L875.4,1787.3L879.3,1789.4L883.0,1792.3L886.7,1796.0L890.2,1800.1L893.5,1804.6L896.6,1809.1L899.5,1813.8L902.3,1818.5L904.9,1823.2L907.5,1827.9L910.0,1832.5L912.5,1837.2L914.9,1841.9L917.2,1846.5L919.5,1851.1L921.8,1855.7L924.0,1860.4L926.1,1865.0L928.3,1869.5L930.4,1874.1L932.4,1878.7L934.4,1883.3L936.4,1887.8L938.4,1892.4L940.4,1896.9L942.3,1901.4L944.2,1906.0L946.1,1910.5L948.0,1915.0L949.9,1919.5L951.7,1924.0L953.6,1928.5L955.4,1933.0L957.3,1937.5L959.2,1942.0L961.0,1946.5L962.9,1951.0L964.8,1955.5L966.7,1960.0L968.6,1964.4L970.6,1968.9L972.5,1973.4L974.5,1977.9L976.5,1982.4L978.6,1986.9L980.6,1991.4L982.7,1995.9L984.9,2000.4L987.1,2004.9L989.3,2009.4L991.5,2013.9L993.7,2018.4L996.0,2022.9L998.3,2027.4L1000.7,2031.8L1003.0,2036.3L1005.4,2040.8L1007.8,2045.3L1010.2,2049.8L1012.7,2054.2L1015.1,2058.7L1017.6,2063.1L1020.1,2067.6L1022.6,2072.0L1025.1,2076.4L1027.6,2080.9L1030.2,2085.3L1032.7,2089.7L1035.3,2094.0L1037.9,2098.4L1040.4,2102.8L1043.0,2107.1L1045.6,2111.4L1048.2,2115.8L1050.8,2120.1L1053.4,2124.3L1056.0,2128.6L1058.6,2132.9L1061.2,2137.1L1063.8,2141.3L1066.5,2145.5L1069.1,2149.7L1071.8,2153.8L1074.5,2157.9L1077.2,2162.0L1080.0,2166.1L1082.8,2170.2L1085.6,2174.2L1088.4,2178.3L1091.3,2182.2L1094.2,2186.2L1097.2,2190.1L1100.2,2194.1L1103.3,2197.9L1106.4,2201.8L1109.6,2205.6L1112.8,2209.4L1116.0,2213.2L1119.4,2216.9L1122.7,2220.6L1126.2,2224.3L1129.7,2227.9L1133.2,2231.5L1136.8,2235.0L1140.4,2238.5L1144.1,2242.0L1147.8,2245.4L1151.6,2248.7L1155.4,2252.0L1159.2,2255.3L1163.1,2258.5L1167.1,2261.7L1171.0,2264.7L1175.1,2267.8L1179.1,2270.8L1183.2,2273.7L1187.4,2276.5L1191.6,2279.3L1195.8,2282.0L1200.0,2284.7L1204.3,2287.2L1208.7,2289.7L1213.0,2292.2L1217.4,2294.5L1221.8,2296.8L1226.3,2299.0L1230.8,2301.1L1235.3,2303.2L1239.9,2305.1L1244.4,2307.0L1249.0,2308.8L1253.7,2310.5L1258.3,2312.2L1263.0,2313.7L1267.7,2315.2L1272.4,2316.6L1277.2,2318.0L1282.0,2319.3L1286.8,2320.5L1291.6,2321.6L1296.4,2322.7L1301.3,2323.6L1306.1,2324.6L1311.0,2325.4L1315.9,2326.2L1320.8,2326.9L1325.8,2327.6L1330.7,2328.2L1335.7,2328.8L1340.7,2329.3L1345.7,2329.8L1350.7,2330.3L1355.7,2330.7L1360.7,2331.1L1365.7,2331.4L1370.8,2331.7L1375.8,2332.0L1380.8,2332.3L1385.9,2332.5L1390.9,2332.7L1396.0,2332.9L1401.1,2333.2L1406.1,2333.4L1411.2,2333.6L1416.3,2333.8L1421.3,2334.0L1426.4,2334.2L1431.5,2334.4L1436.5,2334.6L1441.6,2334.8L1446.6,2335.1L1451.7,2335.4L1456.7,2335.6L1461.8,2335.9L1466.8,2336.1L1471.8,2336.4L1476.8,2336.7L1481.8,2336.9L1486.8,2337.1L1491.8,2337.4L1496.8,2337.6L1501.7,2337.8L1506.7,2338.0L1511.6,2338.1L1516.5,2338.3L1521.4,2338.4L1526.3,2338.5L1531.1,2338.6L1536.0,2338.6L1540.8,2338.6L1545.6,2338.6"/></defs>
<use href="#c15" fill="none" stroke="#ffa8ff" stroke-width="3.8" stroke-linejoin="round" stroke-linecap="round"/>
<use href="#c15" fill="none" stroke="#ff20ff" stroke-width="1.8" stroke-linejoin="round" stroke-linecap="round"/>
<rect x="266.5" y="1477.2" width="1279.1" height="938.8" fill="none" stroke="#222" stroke-width="2.6"/>
<line x1="407.0" y1="2416" x2="407.0" y2="2435" stroke="#222" stroke-width="2.6"/>
<text x="406.5" y="2484" font-size="48" font-weight="normal" fill="#1a1a1a" text-anchor="middle" >50</text>
<line x1="691.9" y1="2416" x2="691.9" y2="2435" stroke="#222" stroke-width="2.6"/>
<text x="691.4" y="2484" font-size="48" font-weight="normal" fill="#1a1a1a" text-anchor="middle" >100</text>
<line x1="976.8" y1="2416" x2="976.8" y2="2435" stroke="#222" stroke-width="2.6"/>
<text x="976.2" y="2484" font-size="48" font-weight="normal" fill="#1a1a1a" text-anchor="middle" >150</text>
<line x1="1261.6" y1="2416" x2="1261.6" y2="2435" stroke="#222" stroke-width="2.6"/>
<text x="1261.1" y="2484" font-size="48" font-weight="normal" fill="#1a1a1a" text-anchor="middle" >200</text>
<line x1="1546.5" y1="2416" x2="1546.5" y2="2435" stroke="#222" stroke-width="2.6"/>
<text x="1546.0" y="2484" font-size="48" font-weight="normal" fill="#1a1a1a" text-anchor="middle" >250</text>
<text x="279.6" y="1537.5" font-size="45.5" font-weight="normal" fill="#1a1a1a" text-anchor="start" textLength="730" lengthAdjust="spacing">PDMS-treated silica content (wt.%)</text>
<line x1="291.5" y1="1596.2" x2="397.5" y2="1596.2" stroke="#b4b4b4" stroke-width="3.7"/>
<line x1="291.5" y1="1596.2" x2="397.5" y2="1596.2" stroke="#242424" stroke-width="1.9"/>
<text x="406.5" y="1611.7" font-size="45.5" font-weight="normal" fill="#1a1a1a" text-anchor="start" textLength="236" lengthAdjust="spacing">Neat epoxy</text>
<line x1="291.5" y1="1653.2" x2="397.5" y2="1653.2" stroke="#ff6a6a" stroke-width="3.4"/>
<line x1="291.5" y1="1653.2" x2="397.5" y2="1653.2" stroke="#ff3434" stroke-width="2.0"/>
<text x="406.5" y="1668.7" font-size="45.5" font-weight="normal" fill="#1a1a1a" text-anchor="start" >1</text>
<line x1="291.5" y1="1710.2" x2="397.5" y2="1710.2" stroke="#7878ff" stroke-width="3.3"/>
<line x1="291.5" y1="1710.2" x2="397.5" y2="1710.2" stroke="#3030ff" stroke-width="1.9"/>
<text x="406.5" y="1725.7" font-size="45.5" font-weight="normal" fill="#1a1a1a" text-anchor="start" >2</text>
<line x1="291.5" y1="1767.2" x2="397.5" y2="1767.2" stroke="#88c4c4" stroke-width="3.6"/>
<line x1="291.5" y1="1767.2" x2="397.5" y2="1767.2" stroke="#209494" stroke-width="1.9"/>
<text x="406.5" y="1782.7" font-size="45.5" font-weight="normal" fill="#1a1a1a" text-anchor="start" >3</text>
<line x1="291.5" y1="1824.2" x2="397.5" y2="1824.2" stroke="#ffa8ff" stroke-width="3.8"/>
<line x1="291.5" y1="1824.2" x2="397.5" y2="1824.2" stroke="#ff20ff" stroke-width="1.8"/>
<text x="406.5" y="1839.7" font-size="45.5" font-weight="normal" fill="#1a1a1a" text-anchor="start" >5</text>
<text transform="translate(201,2247) rotate(-90)" font-size="60" font-weight="bold" fill="#000" textLength="673" lengthAdjust="spacingAndGlyphs">Heat flow [W/g] (Offset)</text>
<text x="676" y="2580.6" font-size="56" font-weight="bold" fill="#000" textLength="341" lengthAdjust="spacing">Temperature</text>
<text x="1038.5" y="2580.6" font-size="56" font-weight="bold" fill="#000">(</text>
<text x="1058.3" y="2552.6" font-size="35" font-weight="bold" fill="#000">o</text>
<text x="1080.5" y="2580.6" font-size="56" font-weight="bold" fill="#000">C</text>
<text x="1124.5" y="2580.6" font-size="56" font-weight="bold" fill="#000">)</text>
<rect x="1094.4" y="1475.5" width="449.89999999999986" height="345.5" fill="#fff"/>
<svg x="1094.4" y="1475.5" width="449.89999999999986" height="345.5" viewBox="1094.4 1475.5 449.89999999999986 345.5" overflow="hidden">
<defs><path id="c16" d="M1095.1,1691.2L1098.0,1688.2L1100.9,1685.1L1103.7,1682.1L1106.5,1679.2L1109.3,1676.2L1112.0,1673.2L1114.7,1670.3L1117.4,1667.3L1120.0,1664.4L1122.6,1661.4L1125.2,1658.5L1127.7,1655.5L1130.2,1652.5L1132.6,1649.4L1135.0,1646.4L1137.3,1643.3L1139.7,1640.2L1141.9,1637.0L1144.1,1633.7L1146.3,1630.5L1148.5,1627.1L1150.5,1623.7L1152.6,1620.2L1154.6,1616.7L1156.5,1613.1L1158.4,1609.5L1160.3,1605.8L1162.2,1602.1L1164.0,1598.3L1165.9,1594.6L1167.7,1590.8L1169.5,1587.0L1171.4,1583.2L1173.3,1579.4L1175.2,1575.7L1177.1,1572.0L1179.0,1568.3L1181.0,1564.6L1183.0,1561.0L1185.1,1557.4L1187.3,1553.9L1189.5,1550.5L1191.8,1547.1L1194.1,1543.9L1196.6,1540.7L1199.1,1537.6L1201.7,1534.6L1204.4,1531.8L1207.3,1529.0L1210.2,1526.4L1213.3,1524.0L1216.5,1521.6L1219.8,1519.5L1223.1,1517.6L1226.6,1515.9L1230.1,1514.6L1233.6,1513.6L1237.2,1513.1L1240.7,1513.0L1244.2,1513.4L1247.6,1514.4L1251.0,1516.0L1254.2,1518.0L1257.4,1520.5L1260.5,1523.2L1263.5,1526.2L1266.5,1529.2L1269.3,1532.2L1272.1,1535.2L1274.9,1538.3L1277.5,1541.5L1280.1,1544.6L1282.6,1547.8L1285.1,1551.0L1287.5,1554.2L1289.9,1557.4L1292.3,1560.7L1294.6,1564.0L1296.9,1567.3L1299.1,1570.6L1301.4,1573.9L1303.6,1577.2L1305.8,1580.5L1308.0,1583.8L1310.2,1587.2L1312.4,1590.5L1314.6,1593.8L1316.8,1597.2L1319.1,1600.5L1321.3,1603.8L1323.6,1607.1L1325.9,1610.4L1328.2,1613.7L1330.6,1617.0L1332.9,1620.3L1335.3,1623.5L1337.7,1626.8L1340.2,1630.0L1342.6,1633.2L1345.1,1636.4L1347.6,1639.6L1350.1,1642.8L1352.7,1645.9L1355.2,1649.1L1357.8,1652.2L1360.5,1655.3L1363.1,1658.3L1365.8,1661.4L1368.5,1664.4L1371.2,1667.4L1373.9,1670.4L1376.7,1673.4L1379.5,1676.3L1382.3,1679.2L1385.2,1682.1L1388.0,1684.9L1390.9,1687.7L1393.8,1690.5L1396.8,1693.3L1399.7,1696.0L1402.7,1698.7L1405.7,1701.4L1408.8,1704.0L1411.8,1706.6L1414.9,1709.2L1418.0,1711.7L1421.2,1714.2L1424.3,1716.6L1427.5,1719.1L1430.7,1721.4L1434.0,1723.8L1437.2,1726.1L1440.5,1728.3L1443.8,1730.5L1447.2,1732.7L1450.6,1734.8L1453.9,1736.9L1457.4,1738.9L1460.8,1740.9L1464.3,1742.8L1467.8,1744.7L1471.3,1746.6L1474.9,1748.4L1478.4,1750.1L1482.0,1751.8L1485.7,1753.4L1489.3,1755.0L1493.0,1756.6L1496.7,1758.0L1500.5,1759.5L1504.2,1760.8L1508.0,1762.2L1511.9,1763.4L1515.7,1764.6L1519.6,1765.8L1523.5,1766.8L1527.4,1767.9L1531.4,1768.8L1535.4,1769.7L1539.4,1770.5L1543.4,1771.3"/></defs>
<use href="#c16" fill="none" stroke="#b4b4b4" stroke-width="3.7" stroke-linejoin="round"/>
<use href="#c16" fill="none" stroke="#242424" stroke-width="1.9" stroke-linejoin="round"/>
<defs><path id="c17" d="M1095.1,1704.5L1098.2,1701.5L1101.1,1698.4L1104.0,1695.4L1106.9,1692.4L1109.6,1689.4L1112.4,1686.5L1115.0,1683.5L1117.6,1680.5L1120.1,1677.6L1122.6,1674.6L1125.0,1671.6L1127.3,1668.6L1129.6,1665.5L1131.9,1662.5L1134.1,1659.4L1136.3,1656.3L1138.4,1653.1L1140.5,1649.9L1142.6,1646.6L1144.6,1643.3L1146.7,1639.9L1148.6,1636.5L1150.6,1633.0L1152.5,1629.4L1154.4,1625.8L1156.4,1622.1L1158.3,1618.4L1160.2,1614.6L1162.1,1610.8L1164.0,1607.0L1165.9,1603.2L1167.8,1599.4L1169.8,1595.6L1171.7,1591.8L1173.8,1588.1L1175.8,1584.3L1177.9,1580.7L1180.0,1577.0L1182.2,1573.5L1184.4,1570.0L1186.7,1566.6L1189.1,1563.3L1191.5,1560.1L1194.0,1557.0L1196.6,1554.1L1199.2,1551.2L1202.0,1548.5L1204.8,1546.0L1207.7,1543.6L1210.8,1541.3L1213.9,1539.3L1217.2,1537.4L1220.5,1535.8L1223.9,1534.4L1227.4,1533.4L1230.9,1532.7L1234.5,1532.5L1238.0,1532.6L1241.6,1533.3L1245.1,1534.6L1248.6,1536.3L1252.1,1538.5L1255.4,1540.9L1258.7,1543.7L1261.9,1546.6L1264.9,1549.5L1267.9,1552.5L1270.7,1555.6L1273.4,1558.6L1276.1,1561.8L1278.6,1564.9L1281.1,1568.1L1283.5,1571.3L1285.8,1574.5L1288.1,1577.8L1290.4,1581.1L1292.6,1584.4L1294.8,1587.7L1296.9,1591.0L1299.1,1594.4L1301.3,1597.7L1303.4,1601.1L1305.6,1604.5L1307.8,1607.8L1310.1,1611.2L1312.3,1614.6L1314.6,1617.9L1316.8,1621.3L1319.1,1624.6L1321.5,1628.0L1323.8,1631.3L1326.1,1634.6L1328.5,1637.9L1330.9,1641.1L1333.3,1644.4L1335.7,1647.6L1338.1,1650.8L1340.6,1654.0L1343.1,1657.2L1345.5,1660.4L1348.1,1663.5L1350.6,1666.6L1353.2,1669.7L1355.7,1672.8L1358.3,1675.9L1361.0,1678.9L1363.6,1681.9L1366.3,1684.9L1369.0,1687.8L1371.7,1690.7L1374.5,1693.6L1377.2,1696.5L1380.0,1699.3L1382.9,1702.1L1385.7,1704.9L1388.6,1707.6L1391.5,1710.3L1394.4,1713.0L1397.4,1715.7L1400.4,1718.3L1403.4,1720.9L1406.5,1723.4L1409.6,1725.9L1412.7,1728.4L1415.8,1730.8L1419.0,1733.2L1422.2,1735.5L1425.5,1737.8L1428.8,1740.1L1432.1,1742.3L1435.4,1744.5L1438.8,1746.7L1442.2,1748.8L1445.7,1750.8L1449.2,1752.8L1452.7,1754.8L1456.2,1756.7L1459.8,1758.6L1463.4,1760.4L1467.1,1762.2L1470.7,1763.9L1474.4,1765.6L1478.1,1767.2L1481.8,1768.7L1485.6,1770.3L1489.3,1771.7L1493.1,1773.1L1496.9,1774.5L1500.7,1775.8L1504.6,1777.0L1508.4,1778.2L1512.3,1779.4L1516.1,1780.4L1520.0,1781.5L1523.9,1782.4L1527.8,1783.3L1531.7,1784.2L1535.6,1784.9L1539.5,1785.6L1543.4,1786.3"/></defs>
<use href="#c17" fill="none" stroke="#ff6a6a" stroke-width="3.4" stroke-linejoin="round"/>
<use href="#c17" fill="none" stroke="#ff3434" stroke-width="2.0" stroke-linejoin="round"/>
<defs><path id="c18" d="M1095.1,1719.8L1098.2,1716.8L1101.1,1713.9L1104.0,1711.0L1106.9,1708.0L1109.6,1705.1L1112.4,1702.2L1115.0,1699.2L1117.6,1696.3L1120.2,1693.4L1122.7,1690.4L1125.1,1687.4L1127.5,1684.4L1129.9,1681.4L1132.3,1678.4L1134.6,1675.3L1136.9,1672.2L1139.2,1669.1L1141.4,1665.9L1143.6,1662.7L1145.9,1659.4L1148.1,1656.1L1150.3,1652.8L1152.5,1649.4L1154.7,1645.9L1156.9,1642.4L1159.2,1638.9L1161.4,1635.4L1163.6,1631.8L1165.9,1628.3L1168.2,1624.7L1170.5,1621.1L1172.9,1617.6L1175.3,1614.1L1177.7,1610.6L1180.2,1607.2L1182.7,1603.8L1185.2,1600.5L1187.8,1597.2L1190.5,1594.1L1193.2,1591.0L1196.0,1588.0L1198.8,1585.1L1201.8,1582.3L1204.7,1579.8L1207.8,1577.5L1211.0,1575.5L1214.2,1573.7L1217.5,1572.3L1220.9,1571.1L1224.3,1570.4L1227.8,1569.9L1231.3,1569.8L1234.8,1570.0L1238.3,1570.5L1241.8,1571.4L1245.3,1572.6L1248.7,1574.1L1252.0,1576.0L1255.3,1578.2L1258.6,1580.6L1261.7,1583.2L1264.8,1586.1L1267.8,1589.0L1270.8,1592.1L1273.6,1595.2L1276.4,1598.3L1279.1,1601.5L1281.7,1604.7L1284.3,1607.9L1286.8,1611.1L1289.3,1614.3L1291.7,1617.5L1294.1,1620.7L1296.5,1623.9L1298.8,1627.1L1301.1,1630.4L1303.4,1633.6L1305.7,1636.8L1308.1,1640.0L1310.4,1643.3L1312.7,1646.5L1315.1,1649.7L1317.5,1652.9L1319.9,1656.1L1322.4,1659.2L1324.9,1662.4L1327.3,1665.6L1329.9,1668.7L1332.4,1671.8L1334.9,1674.9L1337.5,1678.0L1340.1,1681.1L1342.7,1684.2L1345.4,1687.2L1348.1,1690.3L1350.8,1693.3L1353.5,1696.3L1356.2,1699.3L1359.0,1702.2L1361.8,1705.1L1364.6,1708.0L1367.4,1710.9L1370.3,1713.8L1373.1,1716.6L1376.0,1719.4L1379.0,1722.2L1381.9,1724.9L1384.9,1727.6L1387.9,1730.3L1390.9,1733.0L1393.9,1735.6L1397.0,1738.2L1400.1,1740.8L1403.2,1743.3L1406.3,1745.8L1409.5,1748.2L1412.7,1750.7L1415.9,1753.0L1419.1,1755.4L1422.4,1757.7L1425.7,1760.0L1429.0,1762.2L1432.3,1764.4L1435.6,1766.5L1439.0,1768.6L1442.4,1770.7L1445.8,1772.7L1449.3,1774.6L1452.8,1776.6L1456.3,1778.4L1459.8,1780.3L1463.3,1782.0L1466.9,1783.7L1470.5,1785.4L1474.1,1787.0L1477.7,1788.6L1481.4,1790.1L1485.1,1791.6L1488.8,1793.0L1492.5,1794.4L1496.3,1795.6L1500.1,1796.9L1503.9,1798.1L1507.7,1799.2L1511.6,1800.3L1515.5,1801.3L1519.4,1802.2L1523.3,1803.1L1527.3,1803.9L1531.3,1804.6L1535.3,1805.3L1539.3,1806.0L1543.4,1806.5"/></defs>
<use href="#c18" fill="none" stroke="#7878ff" stroke-width="3.3" stroke-linejoin="round"/>
<use href="#c18" fill="none" stroke="#3030ff" stroke-width="1.9" stroke-linejoin="round"/>
<defs><path id="c19" d="M1095.1,1747.4L1098.3,1744.3L1101.4,1741.3L1104.3,1738.3L1107.2,1735.2L1110.0,1732.2L1112.7,1729.2L1115.3,1726.1L1117.8,1723.1L1120.3,1720.0L1122.6,1717.0L1125.0,1713.9L1127.2,1710.8L1129.4,1707.7L1131.6,1704.5L1133.7,1701.3L1135.7,1698.1L1137.8,1694.9L1139.8,1691.6L1141.7,1688.3L1143.7,1684.9L1145.6,1681.5L1147.5,1678.1L1149.4,1674.6L1151.4,1671.0L1153.3,1667.4L1155.2,1663.8L1157.1,1660.1L1159.1,1656.4L1161.1,1652.7L1163.1,1649.0L1165.1,1645.3L1167.2,1641.6L1169.3,1637.9L1171.4,1634.2L1173.6,1630.6L1175.9,1627.1L1178.2,1623.6L1180.6,1620.2L1183.1,1616.8L1185.6,1613.5L1188.3,1610.4L1191.0,1607.3L1193.8,1604.4L1196.6,1601.6L1199.6,1598.9L1202.7,1596.4L1205.8,1594.1L1209.1,1592.0L1212.4,1590.2L1215.8,1588.7L1219.3,1587.4L1222.8,1586.4L1226.4,1585.8L1230.1,1585.6L1233.7,1585.7L1237.3,1586.2L1240.9,1587.2L1244.2,1588.6L1247.5,1590.4L1250.6,1592.5L1253.6,1595.0L1256.5,1597.6L1259.3,1600.5L1262.0,1603.5L1264.6,1606.7L1267.2,1609.9L1269.7,1613.1L1272.2,1616.5L1274.6,1619.8L1276.9,1623.2L1279.3,1626.7L1281.6,1630.1L1283.9,1633.5L1286.2,1637.0L1288.5,1640.4L1290.8,1643.9L1293.1,1647.3L1295.4,1650.7L1297.7,1654.1L1300.0,1657.5L1302.4,1660.9L1304.7,1664.3L1307.0,1667.7L1309.3,1671.0L1311.6,1674.4L1314.0,1677.7L1316.3,1681.1L1318.6,1684.4L1321.0,1687.7L1323.3,1691.0L1325.7,1694.3L1328.1,1697.5L1330.5,1700.8L1332.9,1704.0L1335.3,1707.2L1337.7,1710.4L1340.2,1713.6L1342.6,1716.8L1345.1,1719.9L1347.6,1723.1L1350.1,1726.2L1352.6,1729.2L1355.1,1732.3L1357.7,1735.4L1360.3,1738.4L1362.9,1741.4L1365.5,1744.4L1368.1,1747.3L1370.8,1750.2L1373.5,1753.1L1376.2,1756.0L1378.9,1758.9L1381.7,1761.7L1384.5,1764.5L1387.3,1767.3L1390.2,1770.0L1393.0,1772.7L1395.9,1775.4L1398.9,1778.1L1401.8,1780.7L1404.8,1783.3L1407.9,1785.9L1410.9,1788.4L1414.0,1790.9L1417.1,1793.3L1420.3,1795.8L1423.5,1798.2L1426.7,1800.5L1430.0,1802.8L1433.3,1805.1L1436.7,1807.4L1440.1,1809.6L1443.5,1811.8L1447.0,1813.9L1450.5,1816.0L1454.1,1818.1L1457.7,1820.1L1461.3,1822.1L1465.0,1824.0"/></defs>
<use href="#c19" fill="none" stroke="#88c4c4" stroke-width="3.6" stroke-linejoin="round"/>
<use href="#c19" fill="none" stroke="#209494" stroke-width="1.9" stroke-linejoin="round"/>
<defs><path id="c20" d="M1095.1,1787.2L1098.2,1784.4L1101.2,1781.6L1104.1,1778.7L1106.9,1775.8L1109.7,1772.9L1112.3,1769.9L1114.9,1766.8L1117.5,1763.7L1120.0,1760.6L1122.4,1757.5L1124.8,1754.3L1127.1,1751.0L1129.4,1747.8L1131.6,1744.5L1133.9,1741.2L1136.0,1737.9L1138.2,1734.5L1140.3,1731.2L1142.4,1727.8L1144.4,1724.4L1146.5,1720.9L1148.5,1717.5L1150.6,1714.1L1152.6,1710.6L1154.7,1707.1L1156.7,1703.7L1158.7,1700.2L1160.8,1696.7L1162.9,1693.3L1165.0,1689.8L1167.1,1686.3L1169.2,1682.9L1171.4,1679.4L1173.6,1676.0L1175.9,1672.6L1178.1,1669.1L1180.5,1665.7L1182.9,1662.4L1185.3,1659.0L1187.8,1655.7L1190.3,1652.3L1193.0,1649.0L1195.6,1645.8L1198.4,1642.6L1201.3,1639.6L1204.2,1636.7L1207.3,1633.9L1210.4,1631.5L1213.7,1629.2L1217.1,1627.3L1220.6,1625.7L1224.2,1624.5L1227.8,1623.7L1231.4,1623.4L1235.0,1623.5L1238.6,1624.1L1242.0,1625.0L1245.3,1626.3L1248.5,1627.9L1251.6,1629.7L1254.6,1631.9L1257.5,1634.2L1260.3,1636.8L1263.1,1639.4L1265.9,1642.2L1268.6,1645.2L1271.3,1648.2L1274.0,1651.3L1276.6,1654.5L1279.2,1657.8L1281.8,1661.1L1284.4,1664.5L1287.0,1667.9L1289.5,1671.4L1292.0,1674.9L1294.5,1678.4L1297.0,1681.8L1299.5,1685.3L1301.9,1688.8L1304.4,1692.2L1306.8,1695.6L1309.2,1698.9L1311.6,1702.2L1314.0,1705.4L1316.5,1708.6L1318.9,1711.8L1321.3,1715.0L1323.7,1718.1L1326.1,1721.2L1328.5,1724.3L1330.9,1727.4L1333.3,1730.4L1335.7,1733.5L1338.2,1736.5L1340.6,1739.5L1343.1,1742.6L1345.6,1745.6L1348.0,1748.6L1350.5,1751.6L1353.1,1754.7L1355.6,1757.7L1358.2,1760.8L1360.7,1763.8L1363.3,1766.9L1366.0,1769.9L1368.6,1773.0L1371.3,1776.0L1374.0,1779.0L1376.8,1782.0L1379.5,1784.9L1382.4,1787.9L1385.2,1790.8L1388.1,1793.6L1391.0,1796.4L1394.0,1799.2L1397.0,1802.0L1400.0,1804.7L1403.1,1807.3L1406.2,1809.9L1409.4,1812.4L1412.6,1814.9L1415.9,1817.3L1419.2,1819.6L1422.6,1821.8L1426.0,1824.0"/></defs>
<use href="#c20" fill="none" stroke="#ffa8ff" stroke-width="3.8" stroke-linejoin="round"/>
<use href="#c20" fill="none" stroke="#ff20ff" stroke-width="1.8" stroke-linejoin="round"/>
</svg>
<rect x="1094.4" y="1475.5" width="449.89999999999986" height="345.5" fill="none" stroke="#2a2a2a" stroke-width="3"/>
<text x="1094.4" y="1849" font-size="19.5" font-weight="normal" fill="#6e6e6e" text-anchor="middle" textLength="27" lengthAdjust="spacingAndGlyphs">100</text>
<line x1="1184.4" y1="1821" x2="1184.4" y2="1826" stroke="#333" stroke-width="2.2"/>
<text x="1184.4" y="1849" font-size="19.5" font-weight="normal" fill="#6e6e6e" text-anchor="middle" textLength="27" lengthAdjust="spacingAndGlyphs">120</text>
<line x1="1274.4" y1="1821" x2="1274.4" y2="1826" stroke="#333" stroke-width="2.2"/>
<text x="1274.4" y="1849" font-size="19.5" font-weight="normal" fill="#6e6e6e" text-anchor="middle" textLength="27" lengthAdjust="spacingAndGlyphs">140</text>
<line x1="1364.3" y1="1821" x2="1364.3" y2="1826" stroke="#333" stroke-width="2.2"/>
<text x="1364.3" y="1849" font-size="19.5" font-weight="normal" fill="#6e6e6e" text-anchor="middle" textLength="27" lengthAdjust="spacingAndGlyphs">160</text>
<line x1="1454.3" y1="1821" x2="1454.3" y2="1826" stroke="#333" stroke-width="2.2"/>
<text x="1454.3" y="1849" font-size="19.5" font-weight="normal" fill="#6e6e6e" text-anchor="middle" textLength="27" lengthAdjust="spacingAndGlyphs">180</text>
<text x="1544.3" y="1849" font-size="19.5" font-weight="normal" fill="#6e6e6e" text-anchor="middle" textLength="27" lengthAdjust="spacingAndGlyphs">200</text>
<rect x="214.25" y="2762" width="1278.5" height="266" fill="url(#g1)" stroke="#7a7a7a" stroke-width="4.5"/>
<rect x="214.25" y="3299" width="1278.5" height="267" fill="url(#g2)" stroke="#7a7a7a" stroke-width="4.5"/>
<ellipse cx="400.6" cy="3427" rx="58.5" ry="63.5" fill="#fff" fill-opacity="0.5"/>
<ellipse cx="400.6" cy="3427" rx="56.5" ry="61.5" fill="#fff"/>
<clipPath id="cc0"><ellipse cx="400.6" cy="3427" rx="52" ry="57"/></clipPath>
<rect x="343.6" y="3365" width="114" height="124" fill="url(#dots)" clip-path="url(#cc0)"/>
<ellipse cx="672" cy="3486.6" rx="59.0" ry="65.5" fill="#fff" fill-opacity="0.5"/>
<ellipse cx="672" cy="3486.6" rx="57.0" ry="63.5" fill="#fff"/>
<clipPath id="cc1"><ellipse cx="672" cy="3486.6" rx="52.5" ry="59"/></clipPath>
<rect x="614.5" y="3422.6" width="115.0" height="128" fill="url(#dots)" clip-path="url(#cc1)"/>
<ellipse cx="864.5" cy="3411.5" rx="58.5" ry="64.0" fill="#fff" fill-opacity="0.5"/>
<ellipse cx="864.5" cy="3411.5" rx="56.5" ry="62.0" fill="#fff"/>
<clipPath id="cc2"><ellipse cx="864.5" cy="3411.5" rx="52" ry="57.5"/></clipPath>
<rect x="807.5" y="3349.0" width="114" height="125.0" fill="url(#dots)" clip-path="url(#cc2)"/>
<ellipse cx="1152.8" cy="3486.6" rx="59.9" ry="65.5" fill="#fff" fill-opacity="0.5"/>
<ellipse cx="1152.8" cy="3486.6" rx="57.9" ry="63.5" fill="#fff"/>
<clipPath id="cc3"><ellipse cx="1152.8" cy="3486.6" rx="53.4" ry="59"/></clipPath>
<rect x="1094.3999999999999" y="3422.6" width="116.8" height="128" fill="url(#dots)" clip-path="url(#cc3)"/>
<ellipse cx="1334.2" cy="3407.5" rx="59.0" ry="64.5" fill="#fff" fill-opacity="0.5"/>
<ellipse cx="1334.2" cy="3407.5" rx="57.0" ry="62.5" fill="#fff"/>
<clipPath id="cc4"><ellipse cx="1334.2" cy="3407.5" rx="52.5" ry="58"/></clipPath>
<rect x="1276.7" y="3344.5" width="115.0" height="126" fill="url(#dots)" clip-path="url(#cc4)"/>
<line x1="1147" y1="3073.5" x2="1084.5" y2="2923.8" stroke="#000" stroke-width="4.6"/>
<polygon points="1072.9,2896.1 1098.5,2917.9 1070.4,2929.7" fill="#000"/>
<line x1="1150.7" y1="3229.3" x2="1089.1" y2="3395.3" stroke="#000" stroke-width="4.6"/>
<polygon points="1078.5,3423.9 1074.8,3390.0 1103.4,3400.6" fill="#000"/>
<line x1="485.6" y1="3277.4" x2="404.5" y2="3425.3" stroke="#0000ff" stroke-width="4.4"/>
<polygon points="391.5,3449 392.6,3418.8 416.3,3431.8" fill="#0000ff"/>
<text x="924" y="3176.5" font-size="85" font-weight="bold" fill="#000" text-anchor="start" textLength="519" lengthAdjust="spacingAndGlyphs">Epoxy matrix</text>
<text x="279.5" y="3236" font-size="85" font-weight="bold" fill="#0000ff" textLength="370" lengthAdjust="spacingAndGlyphs">Nano-SiO</text>
<text x="647" y="3253.5" font-size="58" font-weight="bold" fill="#0000ff">2</text>
<path d="M341,3653.5 H401 M368.5,3626.5 L401,3653.5 L368.5,3680.5" fill="none" stroke="#ff0000" stroke-width="9" stroke-linejoin="miter"/>
<text x="439" y="3684.5" font-size="85" font-weight="bold" fill="#ff0000" text-anchor="start" textLength="678" lengthAdjust="spacingAndGlyphs">“Catalytic effect”</text>
</svg>
</body></html>
